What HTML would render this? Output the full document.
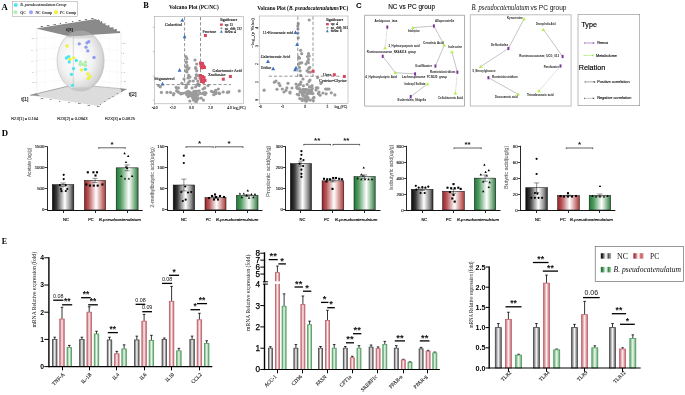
<!DOCTYPE html>
<html><head><meta charset="utf-8"><title>Figure</title>
<style>html,body{margin:0;padding:0;background:#fff;width:685px;height:395px;overflow:hidden}
svg{display:block;font-family:"Liberation Sans", sans-serif;will-change:transform}</style></head>
<body><svg width="685" height="395" viewBox="0 0 685 395"><defs>
<linearGradient id="gK" x1="0" x2="1" y1="0" y2="0"><stop offset="0" stop-color="#0a0a0a"/><stop offset="0.2" stop-color="#3a3a3a"/><stop offset="0.58" stop-color="#ffffff"/><stop offset="0.85" stop-color="#8a8a8a"/><stop offset="1" stop-color="#2a2a2a"/></linearGradient>
<linearGradient id="gR" x1="0" x2="1" y1="0" y2="0"><stop offset="0" stop-color="#9a2226"/><stop offset="0.2" stop-color="#b95a5c"/><stop offset="0.55" stop-color="#ffffff"/><stop offset="0.85" stop-color="#c77a78"/><stop offset="1" stop-color="#a83a38"/></linearGradient>
<linearGradient id="gG" x1="0" x2="1" y1="0" y2="0"><stop offset="0" stop-color="#1d7a35"/><stop offset="0.2" stop-color="#4f9a5f"/><stop offset="0.58" stop-color="#ffffff"/><stop offset="0.85" stop-color="#7aae84"/><stop offset="1" stop-color="#2f7a42"/></linearGradient>
<linearGradient id="eK" x1="0" x2="1" y1="0" y2="0"><stop offset="0" stop-color="#555"/><stop offset="0.5" stop-color="#f4f4f4"/><stop offset="1" stop-color="#555"/></linearGradient>
<linearGradient id="eR" x1="0" x2="1" y1="0" y2="0"><stop offset="0" stop-color="#c2606a"/><stop offset="0.5" stop-color="#fbeeee"/><stop offset="1" stop-color="#c2606a"/></linearGradient>
<linearGradient id="eG" x1="0" x2="1" y1="0" y2="0"><stop offset="0" stop-color="#5aa56a"/><stop offset="0.5" stop-color="#eef8ee"/><stop offset="1" stop-color="#5aa56a"/></linearGradient>
<radialGradient id="sph" cx="0.42" cy="0.45" r="0.62"><stop offset="0" stop-color="#ffffff"/><stop offset="0.55" stop-color="#f2f2f2"/><stop offset="0.85" stop-color="#d8d8d8"/><stop offset="1" stop-color="#bdbdbd"/></radialGradient>
<linearGradient id="lK" x1="0" x2="1"><stop offset="0" stop-color="#111"/><stop offset="0.15" stop-color="#222"/><stop offset="0.48" stop-color="#fff"/><stop offset="0.58" stop-color="#ddd"/><stop offset="0.75" stop-color="#555"/><stop offset="1" stop-color="#bbb"/></linearGradient>
<linearGradient id="lR" x1="0" x2="1"><stop offset="0" stop-color="#a02a30"/><stop offset="0.15" stop-color="#b03a40"/><stop offset="0.48" stop-color="#fff"/><stop offset="0.58" stop-color="#f0d0d0"/><stop offset="0.75" stop-color="#c05050"/><stop offset="1" stop-color="#e8b8b8"/></linearGradient>
<linearGradient id="lG" x1="0" x2="1"><stop offset="0" stop-color="#1f7a35"/><stop offset="0.15" stop-color="#2a8040"/><stop offset="0.48" stop-color="#fff"/><stop offset="0.58" stop-color="#d6ecd6"/><stop offset="0.75" stop-color="#3a8a4a"/><stop offset="1" stop-color="#b8dcb8"/></linearGradient>
</defs>
<text x="1.50" y="9.90" font-size="8.2" font-family='"Liberation Serif", serif' fill="#000" font-weight="bold" textLength="6.30" lengthAdjust="spacingAndGlyphs">A</text>
<rect x="12.30" y="1.30" width="65.20" height="15.20" fill="#fff" stroke="#9a9a9a" stroke-width="0.5"/>
<circle cx="15.80" cy="5.10" r="2.0" fill="#52e6f0"/>
<text x="20.30" y="6.40" font-size="3.8" font-family='"Liberation Serif", serif' fill="#222" font-weight="bold" font-style="italic" textLength="46.20" lengthAdjust="spacingAndGlyphs">B. pseudocatenulatum Group</text>
<circle cx="15.40" cy="12.30" r="2.0" fill="#b4f0b4"/>
<text x="20.30" y="13.60" font-size="3.8" font-family='"Liberation Serif", serif' fill="#222" font-weight="bold" textLength="5.70" lengthAdjust="spacingAndGlyphs">QC</text>
<circle cx="31.00" cy="12.30" r="2.0" fill="#9aa6ee"/>
<text x="35.40" y="13.60" font-size="3.8" font-family='"Liberation Serif", serif' fill="#222" font-weight="bold" textLength="16.60" lengthAdjust="spacingAndGlyphs">NC Group</text>
<circle cx="56.00" cy="12.30" r="2.0" fill="#eef03a"/>
<text x="60.00" y="13.60" font-size="3.8" font-family='"Liberation Serif", serif' fill="#222" font-weight="bold" textLength="16.20" lengthAdjust="spacingAndGlyphs">PC Group</text>
<line x1="37.00" y1="38.50" x2="70.00" y2="35.50" stroke="#ececec" stroke-width="0.3"/>
<line x1="80.00" y1="35.50" x2="121.00" y2="39.50" stroke="#ececec" stroke-width="0.3"/>
<line x1="37.00" y1="49.50" x2="70.00" y2="46.50" stroke="#ececec" stroke-width="0.3"/>
<line x1="80.00" y1="46.50" x2="121.00" y2="50.50" stroke="#ececec" stroke-width="0.3"/>
<line x1="37.00" y1="60.50" x2="70.00" y2="57.50" stroke="#ececec" stroke-width="0.3"/>
<line x1="80.00" y1="57.50" x2="121.00" y2="61.50" stroke="#ececec" stroke-width="0.3"/>
<line x1="37.00" y1="71.50" x2="70.00" y2="68.50" stroke="#ececec" stroke-width="0.3"/>
<line x1="80.00" y1="68.50" x2="121.00" y2="72.50" stroke="#ececec" stroke-width="0.3"/>
<line x1="37.00" y1="82.50" x2="70.00" y2="79.50" stroke="#ececec" stroke-width="0.3"/>
<line x1="80.00" y1="79.50" x2="121.00" y2="83.50" stroke="#ececec" stroke-width="0.3"/>
<line x1="37.00" y1="93.50" x2="70.00" y2="90.50" stroke="#ececec" stroke-width="0.3"/>
<line x1="80.00" y1="90.50" x2="121.00" y2="94.50" stroke="#ececec" stroke-width="0.3"/>
<line x1="45.00" y1="33.00" x2="45.00" y2="92.00" stroke="#efefef" stroke-width="0.3"/>
<line x1="85.00" y1="31.00" x2="85.00" y2="90.00" stroke="#efefef" stroke-width="0.3"/>
<line x1="54.00" y1="33.00" x2="54.00" y2="92.00" stroke="#efefef" stroke-width="0.3"/>
<line x1="93.00" y1="31.00" x2="93.00" y2="90.00" stroke="#efefef" stroke-width="0.3"/>
<line x1="63.00" y1="33.00" x2="63.00" y2="92.00" stroke="#efefef" stroke-width="0.3"/>
<line x1="101.00" y1="31.00" x2="101.00" y2="90.00" stroke="#efefef" stroke-width="0.3"/>
<line x1="72.00" y1="33.00" x2="72.00" y2="92.00" stroke="#efefef" stroke-width="0.3"/>
<line x1="109.00" y1="31.00" x2="109.00" y2="90.00" stroke="#efefef" stroke-width="0.3"/>
<line x1="81.00" y1="33.00" x2="81.00" y2="92.00" stroke="#efefef" stroke-width="0.3"/>
<line x1="117.00" y1="31.00" x2="117.00" y2="90.00" stroke="#efefef" stroke-width="0.3"/>
<line x1="36.80" y1="29.00" x2="36.80" y2="95.00" stroke="#d0d0d0" stroke-width="0.35"/>
<line x1="121.00" y1="33.00" x2="121.00" y2="90.00" stroke="#d0d0d0" stroke-width="0.35"/>
<line x1="35.50" y1="38.50" x2="36.80" y2="38.50" stroke="#999" stroke-width="0.3"/>
<text x="31.50" y="39.30" font-size="2.2" font-family='"Liberation Sans", sans-serif' fill="#888">10</text>
<line x1="35.50" y1="50.00" x2="36.80" y2="50.00" stroke="#999" stroke-width="0.3"/>
<text x="31.50" y="50.80" font-size="2.2" font-family='"Liberation Sans", sans-serif' fill="#888">5</text>
<line x1="35.50" y1="61.00" x2="36.80" y2="61.00" stroke="#999" stroke-width="0.3"/>
<text x="31.50" y="61.80" font-size="2.2" font-family='"Liberation Sans", sans-serif' fill="#888">0</text>
<line x1="35.50" y1="72.00" x2="36.80" y2="72.00" stroke="#999" stroke-width="0.3"/>
<text x="31.50" y="72.80" font-size="2.2" font-family='"Liberation Sans", sans-serif' fill="#888">-5</text>
<line x1="35.50" y1="82.60" x2="36.80" y2="82.60" stroke="#999" stroke-width="0.3"/>
<text x="31.50" y="83.40" font-size="2.2" font-family='"Liberation Sans", sans-serif' fill="#888">-10</text>
<line x1="121.00" y1="43.30" x2="122.30" y2="43.30" stroke="#999" stroke-width="0.3"/>
<text x="123.00" y="44.10" font-size="2.2" font-family='"Liberation Sans", sans-serif' fill="#888">10</text>
<line x1="121.00" y1="53.00" x2="122.30" y2="53.00" stroke="#999" stroke-width="0.3"/>
<text x="123.00" y="53.80" font-size="2.2" font-family='"Liberation Sans", sans-serif' fill="#888">5</text>
<line x1="121.00" y1="62.80" x2="122.30" y2="62.80" stroke="#999" stroke-width="0.3"/>
<text x="123.00" y="63.60" font-size="2.2" font-family='"Liberation Sans", sans-serif' fill="#888">0</text>
<line x1="121.00" y1="72.50" x2="122.30" y2="72.50" stroke="#999" stroke-width="0.3"/>
<text x="123.00" y="73.30" font-size="2.2" font-family='"Liberation Sans", sans-serif' fill="#888">-5</text>
<line x1="121.00" y1="81.40" x2="122.30" y2="81.40" stroke="#999" stroke-width="0.3"/>
<text x="123.00" y="82.20" font-size="2.2" font-family='"Liberation Sans", sans-serif' fill="#888">-10</text>
<polygon points="30.00,95.30 75.00,84.50 126.70,89.20 98.00,106.00" fill="#dcdcdc"/>
<line x1="30.00" y1="95.30" x2="75.00" y2="84.50" stroke="#8c8c8c" stroke-width="0.7"/>
<line x1="75.00" y1="84.50" x2="126.70" y2="89.20" stroke="#a0a0a0" stroke-width="0.6"/>
<polygon points="30.00,95.30 36.00,93.50 40.00,96.00" fill="#8a8a8a"/>
<polygon points="126.70,89.20 120.00,88.50 122.00,91.50" fill="#8a8a8a"/>
<text x="40.00" y="99.00" font-size="2.2" font-family='"Liberation Sans", sans-serif' fill="#555" stroke="#555" stroke-width="0.1">-10</text>
<text x="49.50" y="100.30" font-size="2.2" font-family='"Liberation Sans", sans-serif' fill="#555" stroke="#555" stroke-width="0.1">-5</text>
<text x="59.00" y="101.60" font-size="2.2" font-family='"Liberation Sans", sans-serif' fill="#555" stroke="#555" stroke-width="0.1">0</text>
<text x="68.50" y="102.90" font-size="2.2" font-family='"Liberation Sans", sans-serif' fill="#555" stroke="#555" stroke-width="0.1">5</text>
<text x="78.00" y="104.20" font-size="2.2" font-family='"Liberation Sans", sans-serif' fill="#555" stroke="#555" stroke-width="0.1">10</text>
<text x="87.50" y="105.50" font-size="2.2" font-family='"Liberation Sans", sans-serif' fill="#555" stroke="#555" stroke-width="0.1">15</text>
<text x="97.00" y="106.80" font-size="2.2" font-family='"Liberation Sans", sans-serif' fill="#555" stroke="#555" stroke-width="0.1">20</text>
<text x="100.00" y="104.50" font-size="2.0" font-family='"Liberation Sans", sans-serif' fill="#555" stroke="#555" stroke-width="0.1">1</text>
<text x="104.20" y="101.90" font-size="2.0" font-family='"Liberation Sans", sans-serif' fill="#555" stroke="#555" stroke-width="0.1">1</text>
<text x="108.40" y="99.30" font-size="2.0" font-family='"Liberation Sans", sans-serif' fill="#555" stroke="#555" stroke-width="0.1">1</text>
<text x="112.60" y="96.70" font-size="2.0" font-family='"Liberation Sans", sans-serif' fill="#555" stroke="#555" stroke-width="0.1">1</text>
<text x="116.80" y="94.10" font-size="2.0" font-family='"Liberation Sans", sans-serif' fill="#555" stroke="#555" stroke-width="0.1">1</text>
<text x="121.00" y="91.50" font-size="2.0" font-family='"Liberation Sans", sans-serif' fill="#555" stroke="#555" stroke-width="0.1">1</text>
<ellipse cx="80.6" cy="60.8" rx="23.6" ry="30.3" fill="url(#sph)" stroke="#b4b4b4" stroke-width="0.5"/>
<clipPath id="sphc"><ellipse cx="80.6" cy="60.8" rx="23.6" ry="30.3"/></clipPath>
<g clip-path="url(#sphc)"><ellipse cx="80" cy="35" rx="17" ry="3.6" fill="#d0d0d0" opacity="0.7"/><ellipse cx="82" cy="90.5" rx="15" ry="3.2" fill="#c4c4c4" opacity="0.8"/></g>
<line x1="73.30" y1="33.00" x2="73.30" y2="86.00" stroke="#9a9a9a" stroke-width="0.35"/>
<circle cx="67.00" cy="46.00" r="1.65" fill="#f0f03c"/>
<circle cx="79.30" cy="43.80" r="1.65" fill="#8f9cf0"/>
<circle cx="87.00" cy="42.80" r="1.65" fill="#8f9cf0"/>
<circle cx="88.70" cy="41.70" r="1.65" fill="#8f9cf0"/>
<circle cx="86.00" cy="47.20" r="1.65" fill="#8f9cf0"/>
<circle cx="87.80" cy="50.90" r="1.65" fill="#8f9cf0"/>
<circle cx="94.00" cy="57.50" r="1.65" fill="#8f9cf0"/>
<circle cx="66.40" cy="58.00" r="1.65" fill="#48e4f2"/>
<circle cx="68.70" cy="56.60" r="1.65" fill="#48e4f2"/>
<circle cx="70.00" cy="59.20" r="1.65" fill="#f0f03c"/>
<circle cx="69.20" cy="61.90" r="1.65" fill="#48e4f2"/>
<circle cx="73.70" cy="57.80" r="1.65" fill="#f0f03c"/>
<circle cx="76.30" cy="60.50" r="1.65" fill="#48e4f2"/>
<circle cx="80.60" cy="61.90" r="1.65" fill="#b2eeb0"/>
<circle cx="85.50" cy="62.20" r="1.65" fill="#b2eeb0"/>
<circle cx="80.00" cy="64.50" r="1.65" fill="#b2eeb0"/>
<circle cx="83.00" cy="64.50" r="1.65" fill="#b2eeb0"/>
<circle cx="85.50" cy="65.40" r="1.65" fill="#b2eeb0"/>
<circle cx="85.50" cy="69.30" r="1.65" fill="#48e4f2"/>
<circle cx="81.60" cy="69.90" r="1.65" fill="#f0f03c"/>
<circle cx="73.50" cy="68.60" r="1.65" fill="#48e4f2"/>
<circle cx="71.40" cy="74.30" r="1.65" fill="#48e4f2"/>
<circle cx="87.80" cy="73.90" r="1.65" fill="#f0f03c"/>
<circle cx="90.00" cy="76.40" r="1.65" fill="#f0f03c"/>
<circle cx="88.20" cy="78.70" r="1.65" fill="#f0f03c"/>
<circle cx="72.60" cy="85.40" r="1.65" fill="#48e4f2"/>
<polygon points="36.00,28.60 95.50,19.00 120.40,33.00 69.00,36.30" fill="#8a8a8a"/>
<clipPath id="plc"><polygon points="36,28.6 95.5,19 120.4,33 69,36.3"/></clipPath>
<g clip-path="url(#plc)"><ellipse cx="80.6" cy="60.8" rx="23.6" ry="30.3" fill="#a2a2a2"/></g>
<text x="66.00" y="31.20" font-size="4.4" font-family='"Liberation Sans", sans-serif' fill="#111" stroke="#111" stroke-width="0.12" textLength="7.00" lengthAdjust="spacingAndGlyphs">t[3]</text>
<text x="40.00" y="27.36" font-size="2.1" font-family='"Liberation Sans", sans-serif' fill="#444" stroke="#444" stroke-width="0.1">-20</text>
<text x="46.40" y="26.33" font-size="2.1" font-family='"Liberation Sans", sans-serif' fill="#444" stroke="#444" stroke-width="0.1">-15</text>
<text x="52.80" y="25.30" font-size="2.1" font-family='"Liberation Sans", sans-serif' fill="#444" stroke="#444" stroke-width="0.1">-10</text>
<text x="59.20" y="24.26" font-size="2.1" font-family='"Liberation Sans", sans-serif' fill="#444" stroke="#444" stroke-width="0.1">-5</text>
<text x="65.60" y="23.23" font-size="2.1" font-family='"Liberation Sans", sans-serif' fill="#444" stroke="#444" stroke-width="0.1">0</text>
<text x="72.00" y="22.20" font-size="2.1" font-family='"Liberation Sans", sans-serif' fill="#444" stroke="#444" stroke-width="0.1">5</text>
<text x="78.40" y="21.17" font-size="2.1" font-family='"Liberation Sans", sans-serif' fill="#444" stroke="#444" stroke-width="0.1">10</text>
<text x="84.80" y="20.14" font-size="2.1" font-family='"Liberation Sans", sans-serif' fill="#444" stroke="#444" stroke-width="0.1">15</text>
<text x="91.20" y="19.11" font-size="2.1" font-family='"Liberation Sans", sans-serif' fill="#444" stroke="#444" stroke-width="0.1">20</text>
<text x="97.50" y="20.43" font-size="2.0" font-family='"Liberation Sans", sans-serif' fill="#444" stroke="#444" stroke-width="0.1" transform="rotate(30 97.50 20.43)">10</text>
<text x="100.80" y="22.28" font-size="2.0" font-family='"Liberation Sans", sans-serif' fill="#444" stroke="#444" stroke-width="0.1" transform="rotate(30 100.80 22.28)">5</text>
<text x="104.10" y="24.14" font-size="2.0" font-family='"Liberation Sans", sans-serif' fill="#444" stroke="#444" stroke-width="0.1" transform="rotate(30 104.10 24.14)">0</text>
<text x="107.40" y="25.99" font-size="2.0" font-family='"Liberation Sans", sans-serif' fill="#444" stroke="#444" stroke-width="0.1" transform="rotate(30 107.40 25.99)">-5</text>
<text x="110.70" y="27.85" font-size="2.0" font-family='"Liberation Sans", sans-serif' fill="#444" stroke="#444" stroke-width="0.1" transform="rotate(30 110.70 27.85)">-10</text>
<text x="114.00" y="29.71" font-size="2.0" font-family='"Liberation Sans", sans-serif' fill="#444" stroke="#444" stroke-width="0.1" transform="rotate(30 114.00 29.71)">-15</text>
<text x="117.30" y="31.56" font-size="2.0" font-family='"Liberation Sans", sans-serif' fill="#444" stroke="#444" stroke-width="0.1" transform="rotate(30 117.30 31.56)">-20</text>
<text x="21.20" y="101.00" font-size="4.8" font-family='"Liberation Sans", sans-serif' fill="#111" stroke="#111" stroke-width="0.12" textLength="7.20" lengthAdjust="spacingAndGlyphs">t[1]</text>
<text x="128.70" y="95.50" font-size="4.8" font-family='"Liberation Sans", sans-serif' fill="#111" stroke="#111" stroke-width="0.12" textLength="7.80" lengthAdjust="spacingAndGlyphs">t[2]</text>
<text x="11.20" y="120.00" font-size="4.2" font-family='"Liberation Sans", sans-serif' fill="#222" stroke="#222" stroke-width="0.1" textLength="27.20" lengthAdjust="spacingAndGlyphs">R2X[1] = 0.164</text>
<text x="57.20" y="120.00" font-size="4.2" font-family='"Liberation Sans", sans-serif' fill="#222" stroke="#222" stroke-width="0.1" textLength="30.30" lengthAdjust="spacingAndGlyphs">R2X[2] = 0.0943</text>
<text x="105.00" y="120.00" font-size="4.2" font-family='"Liberation Sans", sans-serif' fill="#222" stroke="#222" stroke-width="0.1" textLength="30.00" lengthAdjust="spacingAndGlyphs">R2X[3] = 0.0825</text>
<text x="143.20" y="7.80" font-size="7.4" font-family='"Liberation Serif", serif' fill="#000" font-weight="bold" textLength="5.60" lengthAdjust="spacingAndGlyphs">B</text>
<text x="169.00" y="9.30" font-size="5.6" font-family='"Liberation Serif", serif' fill="#000" font-weight="bold" textLength="49.70" lengthAdjust="spacingAndGlyphs">Volcano Plot (PC/NC)</text>
<text x="257.2" y="9.9" font-size="5.6" font-family='"Liberation Serif", serif' font-weight="bold" textLength="91.1" lengthAdjust="spacingAndGlyphs">Volcano Plot (<tspan font-style="italic">B. pseudocatenulatum</tspan>/PC)</text>
<rect x="154.50" y="16.50" width="89.00" height="87.30" fill="#fff" stroke="#a0a0a0" stroke-width="0.55"/>
<circle cx="186.00" cy="56.70" r="1.6" fill="#9b9b9b"/>
<circle cx="186.90" cy="58.70" r="1.6" fill="#9b9b9b"/>
<circle cx="186.40" cy="62.20" r="1.6" fill="#9b9b9b"/>
<circle cx="187.10" cy="65.60" r="1.6" fill="#9b9b9b"/>
<circle cx="196.70" cy="64.00" r="1.6" fill="#9b9b9b"/>
<circle cx="196.70" cy="70.80" r="1.6" fill="#9b9b9b"/>
<circle cx="186.90" cy="72.00" r="1.6" fill="#9b9b9b"/>
<circle cx="188.70" cy="75.40" r="1.6" fill="#9b9b9b"/>
<circle cx="196.70" cy="75.40" r="1.6" fill="#9b9b9b"/>
<circle cx="189.90" cy="81.00" r="1.6" fill="#9b9b9b"/>
<circle cx="193.30" cy="81.00" r="1.6" fill="#9b9b9b"/>
<circle cx="197.80" cy="81.00" r="1.6" fill="#9b9b9b"/>
<circle cx="181.90" cy="83.30" r="1.6" fill="#9b9b9b"/>
<circle cx="176.20" cy="87.40" r="1.6" fill="#9b9b9b"/>
<circle cx="178.50" cy="87.90" r="1.6" fill="#9b9b9b"/>
<circle cx="186.40" cy="86.80" r="1.6" fill="#9b9b9b"/>
<circle cx="192.10" cy="87.90" r="1.6" fill="#9b9b9b"/>
<circle cx="195.60" cy="86.80" r="1.6" fill="#9b9b9b"/>
<circle cx="199.00" cy="85.60" r="1.6" fill="#9b9b9b"/>
<circle cx="204.70" cy="87.90" r="1.6" fill="#9b9b9b"/>
<circle cx="208.00" cy="85.60" r="1.6" fill="#9b9b9b"/>
<circle cx="160.30" cy="86.80" r="1.6" fill="#9b9b9b"/>
<circle cx="158.70" cy="85.60" r="1.6" fill="#9b9b9b"/>
<circle cx="161.40" cy="92.40" r="1.6" fill="#9b9b9b"/>
<circle cx="167.00" cy="92.40" r="1.6" fill="#9b9b9b"/>
<circle cx="170.50" cy="92.40" r="1.6" fill="#9b9b9b"/>
<circle cx="173.90" cy="93.60" r="1.6" fill="#9b9b9b"/>
<circle cx="177.30" cy="91.30" r="1.6" fill="#9b9b9b"/>
<circle cx="180.80" cy="93.60" r="1.6" fill="#9b9b9b"/>
<circle cx="211.50" cy="91.30" r="1.6" fill="#9b9b9b"/>
<circle cx="216.00" cy="92.40" r="1.6" fill="#9b9b9b"/>
<circle cx="219.50" cy="93.60" r="1.6" fill="#9b9b9b"/>
<circle cx="227.40" cy="92.40" r="1.6" fill="#9b9b9b"/>
<circle cx="239.30" cy="90.90" r="1.6" fill="#9b9b9b"/>
<circle cx="218.30" cy="89.00" r="1.6" fill="#9b9b9b"/>
<circle cx="189.00" cy="68.00" r="1.6" fill="#9b9b9b"/>
<circle cx="195.00" cy="60.00" r="1.6" fill="#9b9b9b"/>
<circle cx="190.00" cy="77.00" r="1.6" fill="#9b9b9b"/>
<circle cx="184.00" cy="79.00" r="1.6" fill="#9b9b9b"/>
<circle cx="200.00" cy="78.00" r="1.6" fill="#9b9b9b"/>
<circle cx="203.00" cy="89.00" r="1.6" fill="#9b9b9b"/>
<circle cx="206.00" cy="93.00" r="1.6" fill="#9b9b9b"/>
<circle cx="189.83" cy="100.98" r="1.6" fill="#9b9b9b"/>
<circle cx="194.63" cy="96.03" r="1.6" fill="#9b9b9b"/>
<circle cx="189.51" cy="92.99" r="1.6" fill="#9b9b9b"/>
<circle cx="193.30" cy="96.53" r="1.6" fill="#9b9b9b"/>
<circle cx="189.85" cy="92.02" r="1.6" fill="#9b9b9b"/>
<circle cx="189.62" cy="94.28" r="1.6" fill="#9b9b9b"/>
<circle cx="198.10" cy="98.49" r="1.6" fill="#9b9b9b"/>
<circle cx="196.45" cy="91.45" r="1.6" fill="#9b9b9b"/>
<circle cx="201.21" cy="98.06" r="1.6" fill="#9b9b9b"/>
<circle cx="192.63" cy="97.65" r="1.6" fill="#9b9b9b"/>
<circle cx="193.79" cy="96.71" r="1.6" fill="#9b9b9b"/>
<circle cx="193.94" cy="91.64" r="1.6" fill="#9b9b9b"/>
<circle cx="194.32" cy="91.32" r="1.6" fill="#9b9b9b"/>
<circle cx="195.58" cy="96.01" r="1.6" fill="#9b9b9b"/>
<circle cx="188.13" cy="96.61" r="1.6" fill="#9b9b9b"/>
<circle cx="195.61" cy="97.92" r="1.6" fill="#9b9b9b"/>
<circle cx="189.08" cy="95.94" r="1.6" fill="#9b9b9b"/>
<circle cx="193.51" cy="94.00" r="1.6" fill="#9b9b9b"/>
<circle cx="203.40" cy="100.07" r="1.6" fill="#9b9b9b"/>
<circle cx="193.35" cy="98.64" r="1.6" fill="#9b9b9b"/>
<circle cx="192.64" cy="94.12" r="1.6" fill="#9b9b9b"/>
<circle cx="195.49" cy="91.76" r="1.6" fill="#9b9b9b"/>
<circle cx="193.81" cy="100.14" r="1.6" fill="#9b9b9b"/>
<circle cx="190.48" cy="95.17" r="1.6" fill="#9b9b9b"/>
<circle cx="199.12" cy="91.01" r="1.6" fill="#9b9b9b"/>
<circle cx="191.98" cy="93.26" r="1.6" fill="#9b9b9b"/>
<circle cx="196.36" cy="101.59" r="1.6" fill="#9b9b9b"/>
<circle cx="191.69" cy="95.29" r="1.6" fill="#9b9b9b"/>
<circle cx="197.29" cy="99.41" r="1.6" fill="#9b9b9b"/>
<circle cx="195.37" cy="93.91" r="1.6" fill="#9b9b9b"/>
<circle cx="195.80" cy="101.41" r="1.6" fill="#9b9b9b"/>
<circle cx="194.90" cy="99.19" r="1.6" fill="#9b9b9b"/>
<circle cx="195.16" cy="92.09" r="1.6" fill="#9b9b9b"/>
<circle cx="195.02" cy="91.65" r="1.6" fill="#9b9b9b"/>
<circle cx="194.05" cy="97.04" r="1.6" fill="#9b9b9b"/>
<circle cx="191.70" cy="95.83" r="1.6" fill="#9b9b9b"/>
<circle cx="195.27" cy="92.41" r="1.6" fill="#9b9b9b"/>
<circle cx="198.03" cy="97.95" r="1.6" fill="#9b9b9b"/>
<circle cx="195.83" cy="93.30" r="1.6" fill="#9b9b9b"/>
<circle cx="195.60" cy="93.91" r="1.6" fill="#9b9b9b"/>
<circle cx="188.41" cy="82.50" r="1.6" fill="#9b9b9b"/>
<circle cx="186.41" cy="84.78" r="1.6" fill="#9b9b9b"/>
<circle cx="186.13" cy="71.04" r="1.6" fill="#9b9b9b"/>
<circle cx="188.06" cy="77.97" r="1.6" fill="#9b9b9b"/>
<circle cx="185.80" cy="87.70" r="1.6" fill="#9b9b9b"/>
<circle cx="186.14" cy="67.23" r="1.6" fill="#9b9b9b"/>
<circle cx="187.82" cy="69.21" r="1.6" fill="#9b9b9b"/>
<circle cx="186.39" cy="62.06" r="1.6" fill="#9b9b9b"/>
<circle cx="195.32" cy="77.99" r="1.6" fill="#9b9b9b"/>
<circle cx="195.85" cy="78.43" r="1.6" fill="#9b9b9b"/>
<circle cx="196.30" cy="74.88" r="1.6" fill="#9b9b9b"/>
<circle cx="198.36" cy="75.61" r="1.6" fill="#9b9b9b"/>
<circle cx="197.01" cy="84.80" r="1.6" fill="#9b9b9b"/>
<circle cx="195.64" cy="67.70" r="1.6" fill="#9b9b9b"/>
<circle cx="198.18" cy="83.63" r="1.6" fill="#9b9b9b"/>
<circle cx="195.87" cy="68.56" r="1.6" fill="#9b9b9b"/>
<circle cx="204.97" cy="94.61" r="1.6" fill="#9b9b9b"/>
<circle cx="219.05" cy="93.06" r="1.6" fill="#9b9b9b"/>
<circle cx="213.17" cy="92.00" r="1.6" fill="#9b9b9b"/>
<circle cx="178.75" cy="92.36" r="1.6" fill="#9b9b9b"/>
<circle cx="173.39" cy="94.79" r="1.6" fill="#9b9b9b"/>
<circle cx="203.35" cy="93.19" r="1.6" fill="#9b9b9b"/>
<circle cx="186.63" cy="94.58" r="1.6" fill="#9b9b9b"/>
<circle cx="188.11" cy="91.33" r="1.6" fill="#9b9b9b"/>
<circle cx="182.87" cy="93.37" r="1.6" fill="#9b9b9b"/>
<circle cx="185.39" cy="92.83" r="1.6" fill="#9b9b9b"/>
<circle cx="197.45" cy="94.99" r="1.6" fill="#9b9b9b"/>
<circle cx="187.58" cy="91.51" r="1.6" fill="#9b9b9b"/>
<circle cx="215.90" cy="93.59" r="1.6" fill="#9b9b9b"/>
<circle cx="187.13" cy="93.82" r="1.6" fill="#9b9b9b"/>
<circle cx="193.49" cy="94.54" r="1.6" fill="#9b9b9b"/>
<circle cx="190.91" cy="93.92" r="1.6" fill="#9b9b9b"/>
<circle cx="197.92" cy="94.66" r="1.6" fill="#9b9b9b"/>
<circle cx="213.80" cy="94.76" r="1.6" fill="#9b9b9b"/>
<circle cx="223.15" cy="91.98" r="1.6" fill="#9b9b9b"/>
<circle cx="198.39" cy="91.20" r="1.6" fill="#9b9b9b"/>
<circle cx="180.98" cy="93.83" r="1.6" fill="#9b9b9b"/>
<circle cx="215.31" cy="93.57" r="1.6" fill="#9b9b9b"/>
<circle cx="203.18" cy="93.86" r="1.6" fill="#9b9b9b"/>
<circle cx="200.42" cy="93.41" r="1.6" fill="#9b9b9b"/>
<circle cx="194.71" cy="93.31" r="1.6" fill="#9b9b9b"/>
<circle cx="228.76" cy="91.93" r="1.6" fill="#9b9b9b"/>
<circle cx="176.70" cy="90.68" r="1.6" fill="#9b9b9b"/>
<circle cx="214.51" cy="92.66" r="1.6" fill="#9b9b9b"/>
<circle cx="204.85" cy="92.58" r="1.6" fill="#9b9b9b"/>
<circle cx="215.70" cy="90.44" r="1.6" fill="#9b9b9b"/>
<line x1="184.60" y1="17.00" x2="184.60" y2="85.10" stroke="#707070" stroke-width="0.75" stroke-dasharray="3.2,2.0"/>
<line x1="200.50" y1="17.00" x2="200.50" y2="85.10" stroke="#707070" stroke-width="0.75" stroke-dasharray="3.2,2.0"/>
<line x1="156.00" y1="84.60" x2="231.00" y2="84.60" stroke="#707070" stroke-width="0.75" stroke-dasharray="3.2,2.0"/>
<rect x="199.00" y="61.50" width="3.00" height="3.00" fill="#d9465e"/>
<rect x="201.00" y="62.00" width="3.00" height="3.00" fill="#d9465e"/>
<rect x="199.50" y="64.00" width="3.00" height="3.00" fill="#d9465e"/>
<rect x="202.00" y="64.50" width="3.00" height="3.00" fill="#d9465e"/>
<rect x="203.00" y="66.00" width="3.00" height="3.00" fill="#d9465e"/>
<rect x="200.00" y="66.30" width="3.00" height="3.00" fill="#d9465e"/>
<rect x="199.00" y="74.00" width="3.00" height="3.00" fill="#d9465e"/>
<rect x="201.00" y="75.00" width="3.00" height="3.00" fill="#d9465e"/>
<rect x="202.50" y="76.00" width="3.00" height="3.00" fill="#d9465e"/>
<rect x="199.50" y="77.50" width="3.00" height="3.00" fill="#d9465e"/>
<rect x="201.50" y="78.50" width="3.00" height="3.00" fill="#d9465e"/>
<rect x="203.50" y="79.00" width="3.00" height="3.00" fill="#d9465e"/>
<rect x="200.00" y="80.00" width="3.00" height="3.00" fill="#d9465e"/>
<rect x="202.00" y="80.70" width="3.00" height="3.00" fill="#d9465e"/>
<rect x="203.90" y="34.00" width="3.00" height="3.00" fill="#d9465e"/>
<rect x="221.80" y="77.70" width="3.00" height="3.00" fill="#d9465e"/>
<rect x="228.90" y="75.00" width="3.00" height="3.00" fill="#d9465e"/>
<polygon points="182.30,18.10 180.38,21.77 184.23,21.77" fill="#3f6fc0"/>
<polygon points="184.60,34.50 182.67,38.18 186.53,38.18" fill="#3f6fc0"/>
<polygon points="179.60,68.00 177.67,71.67 181.53,71.67" fill="#3f6fc0"/>
<polygon points="162.50,81.70 160.57,85.38 164.43,85.38" fill="#3f6fc0"/>
<text x="219.90" y="21.30" font-size="3.4" font-family='"Liberation Serif", serif' fill="#000" stroke="#000" stroke-width="0.1" textLength="17.30" lengthAdjust="spacingAndGlyphs">Significance</text>
<rect x="220.00" y="23.50" width="2.80" height="2.30" fill="#d9465e"/>
<text x="224.80" y="25.80" font-size="3.4" font-family='"Liberation Serif", serif' fill="#000" stroke="#000" stroke-width="0.1" textLength="8.20" lengthAdjust="spacingAndGlyphs">up: 13</text>
<circle cx="221.40" cy="28.30" r="1.15" fill="#9b9b9b"/>
<text x="224.80" y="29.70" font-size="3.4" font-family='"Liberation Serif", serif' fill="#000" stroke="#000" stroke-width="0.1" textLength="17.10" lengthAdjust="spacingAndGlyphs">no_diff: 232</text>
<polygon points="221.35,30.04 219.92,32.77 222.78,32.77" fill="#3f6fc0"/>
<text x="224.80" y="32.80" font-size="3.4" font-family='"Liberation Serif", serif' fill="#000" stroke="#000" stroke-width="0.1" textLength="11.10" lengthAdjust="spacingAndGlyphs">down: 4</text>
<text x="165.00" y="25.60" font-size="3.8" font-family='"Liberation Serif", serif' fill="#111" stroke="#111" stroke-width="0.1" textLength="17.00" lengthAdjust="spacingAndGlyphs">Galactitol</text>
<text x="202.60" y="32.60" font-size="3.8" font-family='"Liberation Serif", serif' fill="#111" stroke="#111" stroke-width="0.1" textLength="13.70" lengthAdjust="spacingAndGlyphs">Fructose</text>
<text x="154.20" y="80.40" font-size="3.8" font-family='"Liberation Serif", serif' fill="#111" stroke="#111" stroke-width="0.1" textLength="20.40" lengthAdjust="spacingAndGlyphs">Stigmasterol</text>
<text x="212.50" y="71.70" font-size="3.8" font-family='"Liberation Serif", serif' fill="#111" stroke="#111" stroke-width="0.1" textLength="29.30" lengthAdjust="spacingAndGlyphs">Galacturonic Acid</text>
<text x="208.00" y="76.10" font-size="3.8" font-family='"Liberation Serif", serif' fill="#111" stroke="#111" stroke-width="0.1" textLength="17.60" lengthAdjust="spacingAndGlyphs">Xanthosine</text>
<line x1="152.80" y1="27.30" x2="154.50" y2="27.30" stroke="#777" stroke-width="0.4"/>
<line x1="152.80" y1="51.70" x2="154.50" y2="51.70" stroke="#777" stroke-width="0.4"/>
<line x1="152.80" y1="76.00" x2="154.50" y2="76.00" stroke="#777" stroke-width="0.4"/>
<line x1="152.80" y1="100.20" x2="154.50" y2="100.20" stroke="#777" stroke-width="0.4"/>
<line x1="154.60" y1="103.80" x2="154.60" y2="105.20" stroke="#777" stroke-width="0.4"/>
<text x="154.60" y="108.60" font-size="3.6" font-family='"Liberation Serif", serif' fill="#111" stroke="#111" stroke-width="0.1" text-anchor="middle">-4.0</text>
<line x1="172.60" y1="103.80" x2="172.60" y2="105.20" stroke="#777" stroke-width="0.4"/>
<text x="172.60" y="108.60" font-size="3.6" font-family='"Liberation Serif", serif' fill="#111" stroke="#111" stroke-width="0.1" text-anchor="middle">-2.0</text>
<line x1="191.60" y1="103.80" x2="191.60" y2="105.20" stroke="#777" stroke-width="0.4"/>
<text x="191.60" y="108.60" font-size="3.6" font-family='"Liberation Serif", serif' fill="#111" stroke="#111" stroke-width="0.1" text-anchor="middle">0.0</text>
<line x1="210.60" y1="103.80" x2="210.60" y2="105.20" stroke="#777" stroke-width="0.4"/>
<text x="210.60" y="108.60" font-size="3.6" font-family='"Liberation Serif", serif' fill="#111" stroke="#111" stroke-width="0.1" text-anchor="middle">2.0</text>
<line x1="229.60" y1="103.80" x2="229.60" y2="105.20" stroke="#777" stroke-width="0.4"/>
<text x="229.60" y="108.60" font-size="3.6" font-family='"Liberation Serif", serif' fill="#111" stroke="#111" stroke-width="0.1" text-anchor="middle">4.0</text>
<text x="232.8" y="108.6" font-size="3.7" stroke="#222" stroke-width="0.1" font-family='"Liberation Serif", serif' fill="#222">log<tspan font-size="2.3" dy="0.9">2</tspan><tspan dy="-0.9">(FC)</tspan></text>
<rect x="259.20" y="16.00" width="88.80" height="87.50" fill="#fff" stroke="#a0a0a0" stroke-width="0.55"/>
<circle cx="309.20" cy="20.00" r="1.6" fill="#9b9b9b"/>
<circle cx="298.30" cy="23.70" r="1.6" fill="#9b9b9b"/>
<circle cx="297.80" cy="26.00" r="1.6" fill="#9b9b9b"/>
<circle cx="298.30" cy="37.80" r="1.6" fill="#9b9b9b"/>
<circle cx="300.60" cy="50.30" r="1.6" fill="#9b9b9b"/>
<circle cx="301.70" cy="53.70" r="1.6" fill="#9b9b9b"/>
<circle cx="308.50" cy="53.70" r="1.6" fill="#9b9b9b"/>
<circle cx="309.20" cy="56.00" r="1.6" fill="#9b9b9b"/>
<circle cx="308.50" cy="59.40" r="1.6" fill="#9b9b9b"/>
<circle cx="301.70" cy="62.80" r="1.6" fill="#9b9b9b"/>
<circle cx="307.40" cy="61.70" r="1.6" fill="#9b9b9b"/>
<circle cx="299.40" cy="67.40" r="1.6" fill="#9b9b9b"/>
<circle cx="309.70" cy="67.40" r="1.6" fill="#9b9b9b"/>
<circle cx="300.10" cy="70.80" r="1.6" fill="#9b9b9b"/>
<circle cx="308.50" cy="72.00" r="1.6" fill="#9b9b9b"/>
<circle cx="300.60" cy="75.40" r="1.6" fill="#9b9b9b"/>
<circle cx="317.60" cy="77.60" r="1.6" fill="#9b9b9b"/>
<circle cx="276.00" cy="81.10" r="1.6" fill="#9b9b9b"/>
<circle cx="278.90" cy="83.30" r="1.6" fill="#9b9b9b"/>
<circle cx="274.40" cy="82.20" r="1.6" fill="#9b9b9b"/>
<circle cx="280.00" cy="85.60" r="1.6" fill="#9b9b9b"/>
<circle cx="288.00" cy="83.30" r="1.6" fill="#9b9b9b"/>
<circle cx="264.10" cy="90.20" r="1.6" fill="#9b9b9b"/>
<circle cx="282.30" cy="89.00" r="1.6" fill="#9b9b9b"/>
<circle cx="286.90" cy="87.90" r="1.6" fill="#9b9b9b"/>
<circle cx="312.00" cy="85.60" r="1.6" fill="#9b9b9b"/>
<circle cx="321.00" cy="83.30" r="1.6" fill="#9b9b9b"/>
<circle cx="325.60" cy="89.00" r="1.6" fill="#9b9b9b"/>
<circle cx="329.00" cy="89.00" r="1.6" fill="#9b9b9b"/>
<circle cx="298.00" cy="29.00" r="1.6" fill="#9b9b9b"/>
<circle cx="298.00" cy="33.00" r="1.6" fill="#9b9b9b"/>
<circle cx="306.00" cy="64.00" r="1.6" fill="#9b9b9b"/>
<circle cx="303.00" cy="79.00" r="1.6" fill="#9b9b9b"/>
<circle cx="310.00" cy="80.00" r="1.6" fill="#9b9b9b"/>
<circle cx="284.00" cy="92.00" r="1.6" fill="#9b9b9b"/>
<circle cx="290.00" cy="93.00" r="1.6" fill="#9b9b9b"/>
<circle cx="292.00" cy="88.00" r="1.6" fill="#9b9b9b"/>
<circle cx="319.00" cy="92.00" r="1.6" fill="#9b9b9b"/>
<circle cx="323.00" cy="93.00" r="1.6" fill="#9b9b9b"/>
<circle cx="316.00" cy="90.00" r="1.6" fill="#9b9b9b"/>
<circle cx="296.00" cy="84.00" r="1.6" fill="#9b9b9b"/>
<circle cx="302.23" cy="98.80" r="1.6" fill="#9b9b9b"/>
<circle cx="302.33" cy="100.53" r="1.6" fill="#9b9b9b"/>
<circle cx="305.54" cy="89.84" r="1.6" fill="#9b9b9b"/>
<circle cx="298.78" cy="94.95" r="1.6" fill="#9b9b9b"/>
<circle cx="310.34" cy="100.04" r="1.6" fill="#9b9b9b"/>
<circle cx="304.39" cy="90.82" r="1.6" fill="#9b9b9b"/>
<circle cx="303.64" cy="95.86" r="1.6" fill="#9b9b9b"/>
<circle cx="306.47" cy="96.22" r="1.6" fill="#9b9b9b"/>
<circle cx="308.23" cy="92.77" r="1.6" fill="#9b9b9b"/>
<circle cx="306.18" cy="100.22" r="1.6" fill="#9b9b9b"/>
<circle cx="306.19" cy="98.83" r="1.6" fill="#9b9b9b"/>
<circle cx="304.12" cy="91.12" r="1.6" fill="#9b9b9b"/>
<circle cx="304.77" cy="89.52" r="1.6" fill="#9b9b9b"/>
<circle cx="304.88" cy="99.70" r="1.6" fill="#9b9b9b"/>
<circle cx="306.56" cy="100.99" r="1.6" fill="#9b9b9b"/>
<circle cx="308.16" cy="99.71" r="1.6" fill="#9b9b9b"/>
<circle cx="304.00" cy="95.81" r="1.6" fill="#9b9b9b"/>
<circle cx="313.92" cy="97.43" r="1.6" fill="#9b9b9b"/>
<circle cx="308.13" cy="97.58" r="1.6" fill="#9b9b9b"/>
<circle cx="313.31" cy="100.81" r="1.6" fill="#9b9b9b"/>
<circle cx="308.12" cy="93.73" r="1.6" fill="#9b9b9b"/>
<circle cx="304.33" cy="91.44" r="1.6" fill="#9b9b9b"/>
<circle cx="306.72" cy="93.03" r="1.6" fill="#9b9b9b"/>
<circle cx="306.93" cy="96.56" r="1.6" fill="#9b9b9b"/>
<circle cx="310.82" cy="93.45" r="1.6" fill="#9b9b9b"/>
<circle cx="306.10" cy="93.13" r="1.6" fill="#9b9b9b"/>
<circle cx="307.53" cy="93.19" r="1.6" fill="#9b9b9b"/>
<circle cx="302.67" cy="95.13" r="1.6" fill="#9b9b9b"/>
<circle cx="305.69" cy="100.91" r="1.6" fill="#9b9b9b"/>
<circle cx="304.95" cy="89.77" r="1.6" fill="#9b9b9b"/>
<circle cx="305.99" cy="89.71" r="1.6" fill="#9b9b9b"/>
<circle cx="299.82" cy="98.72" r="1.6" fill="#9b9b9b"/>
<circle cx="303.19" cy="89.61" r="1.6" fill="#9b9b9b"/>
<circle cx="309.13" cy="90.05" r="1.6" fill="#9b9b9b"/>
<circle cx="309.35" cy="91.80" r="1.6" fill="#9b9b9b"/>
<circle cx="313.24" cy="98.34" r="1.6" fill="#9b9b9b"/>
<circle cx="312.90" cy="93.53" r="1.6" fill="#9b9b9b"/>
<circle cx="302.73" cy="93.65" r="1.6" fill="#9b9b9b"/>
<circle cx="300.53" cy="90.76" r="1.6" fill="#9b9b9b"/>
<circle cx="305.14" cy="98.26" r="1.6" fill="#9b9b9b"/>
<circle cx="300.89" cy="82.09" r="1.6" fill="#9b9b9b"/>
<circle cx="298.61" cy="85.10" r="1.6" fill="#9b9b9b"/>
<circle cx="298.77" cy="63.93" r="1.6" fill="#9b9b9b"/>
<circle cx="300.33" cy="84.13" r="1.6" fill="#9b9b9b"/>
<circle cx="299.52" cy="84.35" r="1.6" fill="#9b9b9b"/>
<circle cx="300.14" cy="62.94" r="1.6" fill="#9b9b9b"/>
<circle cx="299.45" cy="58.21" r="1.6" fill="#9b9b9b"/>
<circle cx="298.73" cy="57.21" r="1.6" fill="#9b9b9b"/>
<circle cx="309.41" cy="86.90" r="1.6" fill="#9b9b9b"/>
<circle cx="307.57" cy="56.55" r="1.6" fill="#9b9b9b"/>
<circle cx="310.45" cy="72.07" r="1.6" fill="#9b9b9b"/>
<circle cx="308.42" cy="62.59" r="1.6" fill="#9b9b9b"/>
<circle cx="309.08" cy="81.44" r="1.6" fill="#9b9b9b"/>
<circle cx="308.59" cy="68.50" r="1.6" fill="#9b9b9b"/>
<circle cx="307.19" cy="84.31" r="1.6" fill="#9b9b9b"/>
<circle cx="307.11" cy="70.79" r="1.6" fill="#9b9b9b"/>
<circle cx="318.39" cy="93.65" r="1.6" fill="#9b9b9b"/>
<circle cx="326.18" cy="93.85" r="1.6" fill="#9b9b9b"/>
<circle cx="309.36" cy="91.27" r="1.6" fill="#9b9b9b"/>
<circle cx="302.75" cy="89.89" r="1.6" fill="#9b9b9b"/>
<circle cx="290.02" cy="92.12" r="1.6" fill="#9b9b9b"/>
<circle cx="303.40" cy="89.34" r="1.6" fill="#9b9b9b"/>
<circle cx="334.84" cy="94.93" r="1.6" fill="#9b9b9b"/>
<circle cx="303.42" cy="85.75" r="1.6" fill="#9b9b9b"/>
<circle cx="304.59" cy="90.65" r="1.6" fill="#9b9b9b"/>
<circle cx="297.16" cy="88.28" r="1.6" fill="#9b9b9b"/>
<circle cx="301.64" cy="92.41" r="1.6" fill="#9b9b9b"/>
<circle cx="331.28" cy="92.86" r="1.6" fill="#9b9b9b"/>
<circle cx="327.22" cy="89.03" r="1.6" fill="#9b9b9b"/>
<circle cx="299.14" cy="88.98" r="1.6" fill="#9b9b9b"/>
<circle cx="285.93" cy="90.41" r="1.6" fill="#9b9b9b"/>
<circle cx="320.04" cy="95.15" r="1.6" fill="#9b9b9b"/>
<circle cx="300.04" cy="91.93" r="1.6" fill="#9b9b9b"/>
<circle cx="311.78" cy="86.96" r="1.6" fill="#9b9b9b"/>
<circle cx="310.60" cy="91.14" r="1.6" fill="#9b9b9b"/>
<circle cx="312.18" cy="88.72" r="1.6" fill="#9b9b9b"/>
<circle cx="296.72" cy="86.90" r="1.6" fill="#9b9b9b"/>
<circle cx="311.64" cy="91.37" r="1.6" fill="#9b9b9b"/>
<circle cx="297.29" cy="94.27" r="1.6" fill="#9b9b9b"/>
<circle cx="307.63" cy="89.83" r="1.6" fill="#9b9b9b"/>
<circle cx="277.02" cy="89.26" r="1.6" fill="#9b9b9b"/>
<circle cx="310.89" cy="90.47" r="1.6" fill="#9b9b9b"/>
<circle cx="303.74" cy="92.41" r="1.6" fill="#9b9b9b"/>
<circle cx="316.29" cy="87.83" r="1.6" fill="#9b9b9b"/>
<circle cx="299.51" cy="88.57" r="1.6" fill="#9b9b9b"/>
<circle cx="317.84" cy="87.91" r="1.6" fill="#9b9b9b"/>
<line x1="297.80" y1="16.50" x2="297.80" y2="76.70" stroke="#707070" stroke-width="0.75" stroke-dasharray="3.2,2.0"/>
<line x1="313.00" y1="16.50" x2="313.00" y2="76.70" stroke="#707070" stroke-width="0.75" stroke-dasharray="3.2,2.0"/>
<line x1="268.70" y1="76.20" x2="341.00" y2="76.20" stroke="#707070" stroke-width="0.75" stroke-dasharray="3.2,2.0"/>
<rect x="311.60" y="69.80" width="3.00" height="3.00" fill="#d9465e"/>
<rect x="332.80" y="73.20" width="3.00" height="3.00" fill="#d9465e"/>
<rect x="342.80" y="75.00" width="3.00" height="3.00" fill="#d9465e"/>
<polygon points="295.50,30.20 293.57,33.88 297.43,33.88" fill="#3f6fc0"/>
<polygon points="297.10,42.20 295.18,45.88 299.03,45.88" fill="#3f6fc0"/>
<polygon points="296.00,65.70 294.07,69.38 297.93,69.38" fill="#3f6fc0"/>
<polygon points="295.10,67.60 293.18,71.28 297.03,71.28" fill="#3f6fc0"/>
<polygon points="268.00,59.20 266.07,62.88 269.93,62.88" fill="#3f6fc0"/>
<polygon points="273.20,66.50 271.27,70.17 275.12,70.17" fill="#3f6fc0"/>
<text x="325.90" y="20.80" font-size="3.4" font-family='"Liberation Serif", serif' fill="#000" stroke="#000" stroke-width="0.1" textLength="17.30" lengthAdjust="spacingAndGlyphs">Significance</text>
<rect x="326.00" y="23.00" width="2.80" height="2.30" fill="#d9465e"/>
<text x="330.80" y="25.30" font-size="3.4" font-family='"Liberation Serif", serif' fill="#000" stroke="#000" stroke-width="0.1" textLength="7.20" lengthAdjust="spacingAndGlyphs">up: 4</text>
<circle cx="327.40" cy="27.80" r="1.15" fill="#9b9b9b"/>
<text x="330.80" y="29.20" font-size="3.4" font-family='"Liberation Serif", serif' fill="#000" stroke="#000" stroke-width="0.1" textLength="17.10" lengthAdjust="spacingAndGlyphs">no_diff: 261</text>
<polygon points="327.35,29.54 325.92,32.27 328.78,32.27" fill="#3f6fc0"/>
<text x="330.80" y="32.30" font-size="3.4" font-family='"Liberation Serif", serif' fill="#000" stroke="#000" stroke-width="0.1" textLength="11.00" lengthAdjust="spacingAndGlyphs">down: 6</text>
<text x="262.80" y="34.10" font-size="3.8" font-family='"Liberation Serif", serif' fill="#111" stroke="#111" stroke-width="0.1" textLength="30.60" lengthAdjust="spacingAndGlyphs">11-Eicosenoic acid</text>
<text x="260.70" y="57.70" font-size="3.8" font-family='"Liberation Serif", serif' fill="#111" stroke="#111" stroke-width="0.1" textLength="29.60" lengthAdjust="spacingAndGlyphs">Galacturonic Acid</text>
<text x="260.70" y="68.90" font-size="3.8" font-family='"Liberation Serif", serif' fill="#111" stroke="#111" stroke-width="0.1" textLength="10.70" lengthAdjust="spacingAndGlyphs">Uridine</text>
<text x="323.00" y="75.80" font-size="3.8" font-family='"Liberation Serif", serif' fill="#111" stroke="#111" stroke-width="0.1" textLength="8.50" lengthAdjust="spacingAndGlyphs">Urea</text>
<text x="319.00" y="81.60" font-size="3.8" font-family='"Liberation Serif", serif' fill="#111" stroke="#111" stroke-width="0.1" textLength="27.80" lengthAdjust="spacingAndGlyphs">Cysteine-Glycine</text>
<line x1="257.60" y1="28.20" x2="259.20" y2="28.20" stroke="#777" stroke-width="0.4"/>
<text x="258.30" y="28.20" font-size="3.6" font-family='"Liberation Serif", serif' fill="#111" stroke="#111" stroke-width="0.1" text-anchor="middle" transform="rotate(-90 258.30 28.20)">4</text>
<line x1="257.60" y1="46.20" x2="259.20" y2="46.20" stroke="#777" stroke-width="0.4"/>
<text x="258.30" y="46.20" font-size="3.6" font-family='"Liberation Serif", serif' fill="#111" stroke="#111" stroke-width="0.1" text-anchor="middle" transform="rotate(-90 258.30 46.20)">3</text>
<line x1="257.60" y1="64.20" x2="259.20" y2="64.20" stroke="#777" stroke-width="0.4"/>
<text x="258.30" y="64.20" font-size="3.6" font-family='"Liberation Serif", serif' fill="#111" stroke="#111" stroke-width="0.1" text-anchor="middle" transform="rotate(-90 258.30 64.20)">2</text>
<line x1="257.60" y1="82.10" x2="259.20" y2="82.10" stroke="#777" stroke-width="0.4"/>
<text x="258.30" y="82.10" font-size="3.6" font-family='"Liberation Serif", serif' fill="#111" stroke="#111" stroke-width="0.1" text-anchor="middle" transform="rotate(-90 258.30 82.10)">1</text>
<line x1="257.60" y1="99.90" x2="259.20" y2="99.90" stroke="#777" stroke-width="0.4"/>
<text x="258.30" y="99.90" font-size="3.6" font-family='"Liberation Serif", serif' fill="#111" stroke="#111" stroke-width="0.1" text-anchor="middle" transform="rotate(-90 258.30 99.90)">0</text>
<line x1="260.20" y1="103.50" x2="260.20" y2="105.00" stroke="#777" stroke-width="0.4"/>
<text x="260.20" y="108.20" font-size="3.6" font-family='"Liberation Serif", serif' fill="#111" stroke="#111" stroke-width="0.1" text-anchor="middle">-6</text>
<line x1="282.60" y1="103.50" x2="282.60" y2="105.00" stroke="#777" stroke-width="0.4"/>
<text x="282.60" y="108.20" font-size="3.6" font-family='"Liberation Serif", serif' fill="#111" stroke="#111" stroke-width="0.1" text-anchor="middle">-3</text>
<line x1="305.20" y1="103.50" x2="305.20" y2="105.00" stroke="#777" stroke-width="0.4"/>
<text x="305.20" y="108.20" font-size="3.6" font-family='"Liberation Serif", serif' fill="#111" stroke="#111" stroke-width="0.1" text-anchor="middle">0</text>
<line x1="327.40" y1="103.50" x2="327.40" y2="105.00" stroke="#777" stroke-width="0.4"/>
<text x="327.40" y="108.20" font-size="3.6" font-family='"Liberation Serif", serif' fill="#111" stroke="#111" stroke-width="0.1" text-anchor="middle">3</text>
<text x="334.5" y="108.0" font-size="3.7" stroke="#222" stroke-width="0.1" font-family='"Liberation Serif", serif' fill="#222">log<tspan font-size="2.3" dy="0.9">2</tspan><tspan dy="-0.9">(FC)</tspan></text>
<text x="254.4" y="33" font-size="4.3" font-family='"Liberation Serif", serif' fill="#222" stroke="#222" stroke-width="0.08" text-anchor="middle" textLength="30" lengthAdjust="spacingAndGlyphs" transform="rotate(-90 254.4 33)">−log<tspan font-size="2.9" dy="1.0">10</tspan><tspan dy="-1.0">(</tspan><tspan font-style="italic">p</tspan> Value)</text>
<text x="355.90" y="8.10" font-size="7.5" font-family='"Liberation Sans", sans-serif' fill="#000" font-weight="bold" textLength="5.70" lengthAdjust="spacingAndGlyphs">C</text>
<text x="388.20" y="9.30" font-size="7.0" font-family='"Liberation Sans", sans-serif' fill="#000" stroke="#000" stroke-width="0.1" textLength="46.80" lengthAdjust="spacingAndGlyphs">NC vs PC group</text>
<text x="471.40" y="9.60" font-size="7.4" font-family='"Liberation Serif", serif' fill="#111" font-style="italic" textLength="57.80" lengthAdjust="spacingAndGlyphs">B. pseudocatenulatum</text>
<text x="530.40" y="9.60" font-size="7.3" font-family='"Liberation Sans", sans-serif' fill="#111" textLength="36.10" lengthAdjust="spacingAndGlyphs">vs PC group</text>
<rect x="364.70" y="15.20" width="99.70" height="90.90" fill="#fff" stroke="#909090" stroke-width="0.7"/>
<rect x="470.30" y="14.80" width="100.80" height="91.20" fill="#fff" stroke="#b8b8b8" stroke-width="0.9"/>
<rect x="578.00" y="14.30" width="61.70" height="91.40" fill="#fff" stroke="#8a8a8a" stroke-width="0.6"/>
<line x1="433.90" y1="26.00" x2="412.90" y2="27.70" stroke="#555" stroke-width="0.35"/>
<line x1="433.90" y1="26.00" x2="444.30" y2="45.20" stroke="#555" stroke-width="0.35"/>
<line x1="387.30" y1="27.10" x2="385.10" y2="47.80" stroke="#555" stroke-width="0.35" stroke-dasharray="0.6,0.6"/>
<line x1="382.70" y1="56.30" x2="395.30" y2="72.70" stroke="#555" stroke-width="0.35"/>
<line x1="395.30" y1="72.70" x2="415.10" y2="73.90" stroke="#555" stroke-width="0.35"/>
<line x1="444.30" y1="45.20" x2="435.40" y2="66.10" stroke="#555" stroke-width="0.35"/>
<line x1="451.90" y1="51.90" x2="457.40" y2="72.20" stroke="#555" stroke-width="0.35"/>
<line x1="457.40" y1="72.20" x2="455.40" y2="93.10" stroke="#555" stroke-width="0.35" stroke-dasharray="0.6,0.6"/>
<line x1="427.50" y1="83.80" x2="410.70" y2="96.60" stroke="#555" stroke-width="0.35"/>
<rect x="386.35" y="25.50" width="1.90" height="3.20" fill="#7a2f9e"/>
<rect x="432.95" y="24.40" width="1.90" height="3.20" fill="#7a2f9e"/>
<rect x="381.75" y="54.70" width="1.90" height="3.20" fill="#7a2f9e"/>
<rect x="434.45" y="64.50" width="1.90" height="3.20" fill="#7a2f9e"/>
<rect x="414.15" y="72.30" width="1.90" height="3.20" fill="#7a2f9e"/>
<rect x="456.45" y="70.60" width="1.90" height="3.20" fill="#7a2f9e"/>
<rect x="409.75" y="95.00" width="1.90" height="3.20" fill="#7a2f9e"/>
<polygon points="412.90,26.10 411.00,29.10 414.80,29.10" fill="#b6ee4a"/>
<polygon points="444.30,43.60 442.40,46.60 446.20,46.60" fill="#b6ee4a"/>
<polygon points="451.90,50.30 450.00,53.30 453.80,53.30" fill="#b6ee4a"/>
<polygon points="385.10,46.20 383.20,49.20 387.00,49.20" fill="#b6ee4a"/>
<polygon points="395.30,71.10 393.40,74.10 397.20,74.10" fill="#b6ee4a"/>
<polygon points="455.40,91.50 453.50,94.50 457.30,94.50" fill="#b6ee4a"/>
<polygon points="427.50,82.20 425.60,85.20 429.40,85.20" fill="#b6ee4a"/>
<text x="374.50" y="22.25" font-size="2.55" font-family='"Liberation Sans", sans-serif' fill="#222" font-weight="bold" textLength="22.90" lengthAdjust="spacingAndGlyphs">Ambiguous_taxa</text>
<text x="435.00" y="22.25" font-size="2.55" font-family='"Liberation Sans", sans-serif' fill="#222" font-weight="bold" textLength="19.00" lengthAdjust="spacingAndGlyphs">Alloprevotella</text>
<text x="408.00" y="32.05" font-size="2.55" font-family='"Liberation Sans", sans-serif' fill="#222" font-weight="bold" textLength="11.70" lengthAdjust="spacingAndGlyphs">Sedoheptulose</text>
<text x="423.10" y="44.45" font-size="2.55" font-family='"Liberation Sans", sans-serif' fill="#222" font-weight="bold" textLength="20.40" lengthAdjust="spacingAndGlyphs">Cerotinic Acid</text>
<text x="448.20" y="48.05" font-size="2.55" font-family='"Liberation Sans", sans-serif' fill="#222" font-weight="bold" textLength="13.90" lengthAdjust="spacingAndGlyphs">Isoleucine</text>
<text x="388.40" y="47.35" font-size="2.55" font-family='"Liberation Sans", sans-serif' fill="#222" font-weight="bold" textLength="31.30" lengthAdjust="spacingAndGlyphs">2_Hydroxycaproic acid</text>
<text x="366.80" y="53.15" font-size="2.55" font-family='"Liberation Sans", sans-serif' fill="#222" font-weight="bold" textLength="49.30" lengthAdjust="spacingAndGlyphs">Ruminococcaceae_NK4A214_group</text>
<text x="365.30" y="77.65" font-size="2.55" font-family='"Liberation Sans", sans-serif' fill="#222" font-weight="bold" textLength="31.70" lengthAdjust="spacingAndGlyphs">4_Hydroxybutyric Acid</text>
<text x="402.00" y="78.15" font-size="2.55" font-family='"Liberation Sans", sans-serif' fill="#222" font-weight="bold" textLength="45.00" lengthAdjust="spacingAndGlyphs">Lachnospiraceae_FCS020_group</text>
<text x="415.00" y="67.05" font-size="2.55" font-family='"Liberation Sans", sans-serif' fill="#222" font-weight="bold" textLength="17.00" lengthAdjust="spacingAndGlyphs">Oscillibacter</text>
<text x="430.00" y="73.15" font-size="2.55" font-family='"Liberation Sans", sans-serif' fill="#222" font-weight="bold" textLength="25.40" lengthAdjust="spacingAndGlyphs">Ruminiclostridium</text>
<text x="438.00" y="98.75" font-size="2.55" font-family='"Liberation Sans", sans-serif' fill="#222" font-weight="bold" textLength="25.00" lengthAdjust="spacingAndGlyphs">Cellobiuronic Acid</text>
<text x="404.40" y="84.75" font-size="2.55" font-family='"Liberation Sans", sans-serif' fill="#222" font-weight="bold" textLength="21.10" lengthAdjust="spacingAndGlyphs">Indoxyl Sulfate</text>
<text x="397.50" y="101.15" font-size="2.55" font-family='"Liberation Sans", sans-serif' fill="#222" font-weight="bold" textLength="28.50" lengthAdjust="spacingAndGlyphs">Escherichia_Shigella</text>
<line x1="524.10" y1="18.80" x2="508.40" y2="48.50" stroke="#555" stroke-width="0.35"/>
<line x1="543.40" y1="29.60" x2="562.60" y2="56.50" stroke="#555" stroke-width="0.35"/>
<line x1="508.40" y1="48.50" x2="480.60" y2="66.60" stroke="#555" stroke-width="0.35"/>
<line x1="488.40" y1="77.70" x2="518.00" y2="94.20" stroke="#555" stroke-width="0.35"/>
<line x1="560.50" y1="66.00" x2="539.00" y2="90.90" stroke="#555" stroke-width="0.35" stroke-dasharray="0.6,0.6"/>
<rect x="507.45" y="46.90" width="1.90" height="3.20" fill="#7a2f9e"/>
<rect x="561.65" y="54.90" width="1.90" height="3.20" fill="#7a2f9e"/>
<rect x="487.45" y="76.10" width="1.90" height="3.20" fill="#7a2f9e"/>
<rect x="559.55" y="64.40" width="1.90" height="3.20" fill="#7a2f9e"/>
<polygon points="524.10,17.20 522.20,20.20 526.00,20.20" fill="#b6ee4a"/>
<polygon points="543.40,28.00 541.50,31.00 545.30,31.00" fill="#b6ee4a"/>
<polygon points="480.60,65.00 478.70,68.00 482.50,68.00" fill="#b6ee4a"/>
<polygon points="518.00,92.60 516.10,95.60 519.90,95.60" fill="#b6ee4a"/>
<polygon points="539.00,89.30 537.10,92.30 540.90,92.30" fill="#b6ee4a"/>
<text x="507.00" y="18.95" font-size="2.55" font-family='"Liberation Sans", sans-serif' fill="#222" font-weight="bold" textLength="15.80" lengthAdjust="spacingAndGlyphs">Kynurenine</text>
<text x="491.00" y="46.35" font-size="2.55" font-family='"Liberation Sans", sans-serif' fill="#222" font-weight="bold" textLength="17.00" lengthAdjust="spacingAndGlyphs">Defluviitalea</text>
<text x="536.00" y="25.35" font-size="2.55" font-family='"Liberation Sans", sans-serif' fill="#222" font-weight="bold" textLength="19.70" lengthAdjust="spacingAndGlyphs">Deoxycholic Acid</text>
<text x="519.30" y="57.45" font-size="2.55" font-family='"Liberation Sans", sans-serif' fill="#222" font-weight="bold" textLength="39.70" lengthAdjust="spacingAndGlyphs">Ruminococcaceae_UCG_013</text>
<text x="472.40" y="72.05" font-size="2.55" font-family='"Liberation Sans", sans-serif' fill="#222" font-weight="bold" textLength="23.10" lengthAdjust="spacingAndGlyphs">5_Benzylglucose</text>
<text x="492.00" y="77.75" font-size="2.55" font-family='"Liberation Sans", sans-serif' fill="#222" font-weight="bold" textLength="25.70" lengthAdjust="spacingAndGlyphs">Ruminiclostridium</text>
<text x="495.00" y="97.95" font-size="2.55" font-family='"Liberation Sans", sans-serif' fill="#222" font-weight="bold" textLength="22.70" lengthAdjust="spacingAndGlyphs">Docosanoic acid</text>
<text x="543.70" y="67.75" font-size="2.55" font-family='"Liberation Sans", sans-serif' fill="#222" font-weight="bold" textLength="15.20" lengthAdjust="spacingAndGlyphs">Parvibacter</text>
<text x="527.00" y="95.75" font-size="2.55" font-family='"Liberation Sans", sans-serif' fill="#222" font-weight="bold" textLength="26.60" lengthAdjust="spacingAndGlyphs">Tetradecanoic acid</text>
<text x="581.40" y="27.00" font-size="7.6" font-family='"Liberation Sans", sans-serif' fill="#000" stroke="#000" stroke-width="0.15" textLength="15.50" lengthAdjust="spacingAndGlyphs">Type</text>
<line x1="584.30" y1="43.00" x2="594.30" y2="43.00" stroke="#7a2f9e" stroke-width="0.5"/>
<circle cx="584.60" cy="43.00" r="0.5" fill="#7a2f9e"/>
<polygon points="594.80,43.00 592.80,42.20 592.80,43.80" fill="#7a2f9e"/>
<text x="596.90" y="44.10" font-size="3.2" font-family='"Liberation Sans", sans-serif' fill="#111" stroke="#111" stroke-width="0.1" textLength="11.40" lengthAdjust="spacingAndGlyphs">Genus</text>
<line x1="583.80" y1="55.40" x2="593.50" y2="55.40" stroke="#8fe83a" stroke-width="0.5"/>
<circle cx="584.10" cy="55.40" r="0.5" fill="#8fe83a"/>
<polygon points="594.00,55.40 592.00,54.60 592.00,56.20" fill="#8fe83a"/>
<text x="596.00" y="56.50" font-size="3.2" font-family='"Liberation Sans", sans-serif' fill="#111" stroke="#111" stroke-width="0.1" textLength="21.00" lengthAdjust="spacingAndGlyphs">Metabolome</text>
<text x="578.70" y="70.20" font-size="7.6" font-family='"Liberation Sans", sans-serif' fill="#000" stroke="#000" stroke-width="0.15" textLength="26.60" lengthAdjust="spacingAndGlyphs">Relation</text>
<line x1="584.80" y1="81.90" x2="595.20" y2="81.90" stroke="#333" stroke-width="0.45"/>
<circle cx="585.10" cy="81.90" r="0.5" fill="#333"/>
<polygon points="595.70,81.90 593.70,81.10 593.70,82.70" fill="#333"/>
<text x="597.20" y="83.00" font-size="3.2" font-family='"Liberation Sans", sans-serif' fill="#111" stroke="#111" stroke-width="0.1" textLength="32.40" lengthAdjust="spacingAndGlyphs">Positive correlation</text>
<line x1="584.30" y1="98.30" x2="594.30" y2="98.30" stroke="#333" stroke-width="0.45" stroke-dasharray="1.2,0.8"/>
<circle cx="584.60" cy="98.30" r="0.5" fill="#333"/>
<polygon points="594.80,98.30 592.80,97.50 592.80,99.10" fill="#333"/>
<text x="597.20" y="99.40" font-size="3.2" font-family='"Liberation Sans", sans-serif' fill="#111" stroke="#111" stroke-width="0.1" textLength="34.10" lengthAdjust="spacingAndGlyphs">Negative correlation</text>
<text x="1.80" y="135.80" font-size="8.0" font-family='"Liberation Serif", serif' fill="#000" font-weight="bold" textLength="6.30" lengthAdjust="spacingAndGlyphs">D</text>
<rect x="52.30" y="184.66" width="21.50" height="25.24" fill="url(#gK)" stroke="#111" stroke-width="0.55"/>
<circle cx="63.70" cy="174.80" r="1.1" fill="#000"/>
<circle cx="63.70" cy="179.10" r="1.1" fill="#000"/>
<circle cx="59.80" cy="185.20" r="1.1" fill="#000"/>
<circle cx="65.60" cy="185.20" r="1.1" fill="#000"/>
<circle cx="61.50" cy="191.20" r="1.1" fill="#000"/>
<circle cx="65.80" cy="191.00" r="1.1" fill="#000"/>
<circle cx="67.30" cy="189.00" r="1.1" fill="#000"/>
<circle cx="60.90" cy="189.00" r="1.1" fill="#000"/>
<line x1="63.05" y1="184.66" x2="63.05" y2="182.98" stroke="#111" stroke-width="0.45"/>
<line x1="60.45" y1="182.98" x2="65.65" y2="182.98" stroke="#111" stroke-width="0.45"/>
<line x1="60.45" y1="186.34" x2="65.65" y2="186.34" stroke="#111" stroke-width="0.45"/>
<line x1="63.05" y1="184.66" x2="63.05" y2="186.34" stroke="#111" stroke-width="0.45"/>
<line x1="63.50" y1="210.50" x2="63.50" y2="213.00" stroke="#111" stroke-width="0.9"/>
<rect x="84.50" y="180.45" width="21.10" height="29.45" fill="url(#gR)" stroke="#111" stroke-width="0.55"/>
<rect x="86.75" y="171.25" width="2.10" height="2.10" fill="#000"/>
<rect x="92.35" y="171.25" width="2.10" height="2.10" fill="#000"/>
<rect x="95.95" y="171.25" width="2.10" height="2.10" fill="#000"/>
<rect x="94.45" y="174.45" width="2.10" height="2.10" fill="#000"/>
<rect x="85.25" y="183.45" width="2.10" height="2.10" fill="#000"/>
<rect x="88.85" y="184.55" width="2.10" height="2.10" fill="#000"/>
<rect x="92.75" y="184.55" width="2.10" height="2.10" fill="#000"/>
<rect x="96.65" y="184.55" width="2.10" height="2.10" fill="#000"/>
<rect x="101.35" y="183.45" width="2.10" height="2.10" fill="#000"/>
<line x1="95.05" y1="180.45" x2="95.05" y2="178.35" stroke="#111" stroke-width="0.45"/>
<line x1="92.45" y1="178.35" x2="97.65" y2="178.35" stroke="#111" stroke-width="0.45"/>
<line x1="92.45" y1="182.56" x2="97.65" y2="182.56" stroke="#111" stroke-width="0.45"/>
<line x1="95.05" y1="180.45" x2="95.05" y2="182.56" stroke="#111" stroke-width="0.45"/>
<line x1="95.50" y1="210.50" x2="95.50" y2="213.00" stroke="#111" stroke-width="0.9"/>
<rect x="116.20" y="167.83" width="21.90" height="42.07" fill="url(#gG)" stroke="#111" stroke-width="0.55"/>
<polygon points="124.60,152.00 123.40,154.20 125.80,154.20" fill="#000"/>
<polygon points="128.20,154.80 127.00,157.00 129.40,157.00" fill="#000"/>
<polygon points="126.00,160.90 124.80,163.10 127.20,163.10" fill="#000"/>
<polygon points="126.00,165.60 124.80,167.80 127.20,167.80" fill="#000"/>
<polygon points="121.30,174.80 120.10,177.00 122.50,177.00" fill="#000"/>
<polygon points="125.00,177.40 123.80,179.60 126.20,179.60" fill="#000"/>
<polygon points="128.90,177.40 127.70,179.60 130.10,179.60" fill="#000"/>
<polygon points="132.10,174.80 130.90,177.00 133.30,177.00" fill="#000"/>
<polygon points="127.10,166.70 125.90,168.90 128.30,168.90" fill="#000"/>
<line x1="127.15" y1="167.83" x2="127.15" y2="164.89" stroke="#111" stroke-width="0.45"/>
<line x1="124.55" y1="164.89" x2="129.75" y2="164.89" stroke="#111" stroke-width="0.45"/>
<line x1="124.55" y1="170.78" x2="129.75" y2="170.78" stroke="#111" stroke-width="0.45"/>
<line x1="127.15" y1="167.83" x2="127.15" y2="170.78" stroke="#111" stroke-width="0.45"/>
<line x1="127.50" y1="210.50" x2="127.50" y2="213.00" stroke="#111" stroke-width="0.9"/>
<line x1="47.50" y1="146.30" x2="47.50" y2="211.00" stroke="#111" stroke-width="0.9"/>
<line x1="47.50" y1="210.50" x2="142.70" y2="210.50" stroke="#111" stroke-width="1.0"/>
<line x1="44.50" y1="209.50" x2="47.30" y2="209.50" stroke="#111" stroke-width="0.8"/>
<text x="44.30" y="211.40" font-size="4.3" font-family='"Liberation Sans", sans-serif' fill="#222" stroke="#222" stroke-width="0.15" text-anchor="end">0</text>
<line x1="44.50" y1="188.50" x2="47.30" y2="188.50" stroke="#111" stroke-width="0.8"/>
<text x="44.30" y="190.37" font-size="4.3" font-family='"Liberation Sans", sans-serif' fill="#222" stroke="#222" stroke-width="0.15" text-anchor="end">500</text>
<line x1="44.50" y1="167.50" x2="47.30" y2="167.50" stroke="#111" stroke-width="0.8"/>
<text x="44.30" y="169.33" font-size="4.3" font-family='"Liberation Sans", sans-serif' fill="#222" stroke="#222" stroke-width="0.15" text-anchor="end">1000</text>
<line x1="44.50" y1="146.50" x2="47.30" y2="146.50" stroke="#111" stroke-width="0.8"/>
<text x="44.30" y="148.30" font-size="4.3" font-family='"Liberation Sans", sans-serif' fill="#222" stroke="#222" stroke-width="0.15" text-anchor="end">1500</text>
<line x1="98.70" y1="147.80" x2="125.30" y2="147.80" stroke="#222" stroke-width="0.7"/>
<line x1="98.70" y1="147.45" x2="98.70" y2="148.90" stroke="#222" stroke-width="0.7"/>
<line x1="125.30" y1="147.45" x2="125.30" y2="148.90" stroke="#222" stroke-width="0.7"/>
<text x="112.00" y="146.80" font-size="8.0" font-family='"Liberation Sans", sans-serif' fill="#111" text-anchor="middle" font-weight="bold">*</text>
<text x="30.90" y="162.30" font-size="4.9" font-family='"Liberation Sans", sans-serif' fill="#6e6e6e" stroke="#6e6e6e" stroke-width="0.12" text-anchor="middle" textLength="29.40" lengthAdjust="spacingAndGlyphs" transform="rotate(-90 30.90 162.30)">Acetate (ug/g)</text>
<text x="63.10" y="220.60" font-size="3.5" font-family='"Liberation Sans", sans-serif' fill="#000" textLength="5.90" lengthAdjust="spacingAndGlyphs" stroke="#000" stroke-width="0.12">NC</text>
<text x="88.20" y="220.60" font-size="3.5" font-family='"Liberation Sans", sans-serif' fill="#000" textLength="5.60" lengthAdjust="spacingAndGlyphs" stroke="#000" stroke-width="0.12">PC</text>
<text x="98.90" y="220.60" font-size="3.5" font-family='"Liberation Sans", sans-serif' fill="#000" font-style="italic" textLength="41.90" lengthAdjust="spacingAndGlyphs" stroke="#000" stroke-width="0.12">B.pseudocatenulatum</text>
<rect x="173.20" y="185.02" width="21.40" height="24.78" fill="url(#gK)" stroke="#111" stroke-width="0.55"/>
<circle cx="183.80" cy="155.70" r="1.1" fill="#000"/>
<circle cx="183.80" cy="163.00" r="1.1" fill="#000"/>
<circle cx="185.20" cy="186.50" r="1.1" fill="#000"/>
<circle cx="181.30" cy="192.00" r="1.1" fill="#000"/>
<circle cx="188.00" cy="192.50" r="1.1" fill="#000"/>
<circle cx="191.20" cy="192.00" r="1.1" fill="#000"/>
<circle cx="182.80" cy="201.00" r="1.1" fill="#000"/>
<circle cx="185.70" cy="199.70" r="1.1" fill="#000"/>
<line x1="183.90" y1="185.02" x2="183.90" y2="179.14" stroke="#111" stroke-width="0.45"/>
<line x1="181.30" y1="179.14" x2="186.50" y2="179.14" stroke="#111" stroke-width="0.45"/>
<line x1="181.30" y1="190.90" x2="186.50" y2="190.90" stroke="#111" stroke-width="0.45"/>
<line x1="183.90" y1="185.02" x2="183.90" y2="190.90" stroke="#111" stroke-width="0.45"/>
<line x1="183.50" y1="210.50" x2="183.50" y2="213.00" stroke="#111" stroke-width="0.9"/>
<rect x="205.00" y="197.62" width="21.00" height="12.18" fill="url(#gR)" stroke="#111" stroke-width="0.55"/>
<rect x="210.95" y="194.95" width="2.10" height="2.10" fill="#000"/>
<rect x="214.95" y="195.95" width="2.10" height="2.10" fill="#000"/>
<rect x="218.95" y="194.95" width="2.10" height="2.10" fill="#000"/>
<rect x="222.95" y="195.95" width="2.10" height="2.10" fill="#000"/>
<rect x="207.95" y="196.95" width="2.10" height="2.10" fill="#000"/>
<rect x="212.95" y="198.45" width="2.10" height="2.10" fill="#000"/>
<rect x="216.95" y="198.45" width="2.10" height="2.10" fill="#000"/>
<rect x="213.95" y="193.45" width="2.10" height="2.10" fill="#000"/>
<line x1="215.50" y1="197.62" x2="215.50" y2="196.78" stroke="#111" stroke-width="0.45"/>
<line x1="212.90" y1="196.78" x2="218.10" y2="196.78" stroke="#111" stroke-width="0.45"/>
<line x1="212.90" y1="198.46" x2="218.10" y2="198.46" stroke="#111" stroke-width="0.45"/>
<line x1="215.50" y1="197.62" x2="215.50" y2="198.46" stroke="#111" stroke-width="0.45"/>
<line x1="215.50" y1="210.50" x2="215.50" y2="213.00" stroke="#111" stroke-width="0.9"/>
<rect x="236.50" y="195.52" width="21.50" height="14.28" fill="url(#gG)" stroke="#111" stroke-width="0.55"/>
<polygon points="247.80,189.30 246.60,191.50 249.00,191.50" fill="#000"/>
<polygon points="239.90,192.40 238.70,194.60 241.10,194.60" fill="#000"/>
<polygon points="243.80,192.40 242.60,194.60 245.00,194.60" fill="#000"/>
<polygon points="251.40,193.10 250.20,195.30 252.60,195.30" fill="#000"/>
<polygon points="255.00,193.10 253.80,195.30 256.20,195.30" fill="#000"/>
<polygon points="246.60,194.10 245.40,196.30 247.80,196.30" fill="#000"/>
<polygon points="241.80,196.00 240.60,198.20 243.00,198.20" fill="#000"/>
<polygon points="249.00,196.50 247.80,198.70 250.20,198.70" fill="#000"/>
<polygon points="253.40,196.00 252.20,198.20 254.60,198.20" fill="#000"/>
<line x1="247.25" y1="195.52" x2="247.25" y2="194.68" stroke="#111" stroke-width="0.45"/>
<line x1="244.65" y1="194.68" x2="249.85" y2="194.68" stroke="#111" stroke-width="0.45"/>
<line x1="244.65" y1="196.36" x2="249.85" y2="196.36" stroke="#111" stroke-width="0.45"/>
<line x1="247.25" y1="195.52" x2="247.25" y2="196.36" stroke="#111" stroke-width="0.45"/>
<line x1="247.50" y1="210.50" x2="247.50" y2="213.00" stroke="#111" stroke-width="0.9"/>
<line x1="167.50" y1="146.30" x2="167.50" y2="211.00" stroke="#111" stroke-width="0.9"/>
<line x1="167.50" y1="210.50" x2="262.50" y2="210.50" stroke="#111" stroke-width="1.0"/>
<line x1="164.70" y1="209.50" x2="167.50" y2="209.50" stroke="#111" stroke-width="0.8"/>
<text x="164.50" y="211.30" font-size="4.3" font-family='"Liberation Sans", sans-serif' fill="#222" stroke="#222" stroke-width="0.15" text-anchor="end">0</text>
<line x1="164.70" y1="188.50" x2="167.50" y2="188.50" stroke="#111" stroke-width="0.8"/>
<text x="164.50" y="190.30" font-size="4.3" font-family='"Liberation Sans", sans-serif' fill="#222" stroke="#222" stroke-width="0.15" text-anchor="end">50</text>
<line x1="164.70" y1="167.50" x2="167.50" y2="167.50" stroke="#111" stroke-width="0.8"/>
<text x="164.50" y="169.30" font-size="4.3" font-family='"Liberation Sans", sans-serif' fill="#222" stroke="#222" stroke-width="0.15" text-anchor="end">100</text>
<line x1="164.70" y1="146.50" x2="167.50" y2="146.50" stroke="#111" stroke-width="0.8"/>
<text x="164.50" y="148.30" font-size="4.3" font-family='"Liberation Sans", sans-serif' fill="#222" stroke="#222" stroke-width="0.15" text-anchor="end">150</text>
<line x1="186.00" y1="146.80" x2="213.30" y2="146.80" stroke="#222" stroke-width="0.7"/>
<line x1="186.00" y1="146.45" x2="186.00" y2="147.90" stroke="#222" stroke-width="0.7"/>
<line x1="213.30" y1="146.45" x2="213.30" y2="147.90" stroke="#222" stroke-width="0.7"/>
<text x="199.65" y="145.80" font-size="8.0" font-family='"Liberation Sans", sans-serif' fill="#111" text-anchor="middle" font-weight="bold">*</text>
<line x1="215.20" y1="146.80" x2="243.00" y2="146.80" stroke="#222" stroke-width="0.7"/>
<line x1="215.20" y1="146.45" x2="215.20" y2="147.90" stroke="#222" stroke-width="0.7"/>
<line x1="243.00" y1="146.45" x2="243.00" y2="147.90" stroke="#222" stroke-width="0.7"/>
<text x="229.10" y="145.80" font-size="8.0" font-family='"Liberation Sans", sans-serif' fill="#111" text-anchor="middle" font-weight="bold">*</text>
<text x="153.80" y="177.40" font-size="4.9" font-family='"Liberation Sans", sans-serif' fill="#6e6e6e" stroke="#6e6e6e" stroke-width="0.12" text-anchor="middle" textLength="60.20" lengthAdjust="spacingAndGlyphs" transform="rotate(-90 153.80 177.40)">2-methylbutyric acid(ug/g)</text>
<text x="180.90" y="220.60" font-size="3.5" font-family='"Liberation Sans", sans-serif' fill="#000" textLength="5.90" lengthAdjust="spacingAndGlyphs" stroke="#000" stroke-width="0.12">NC</text>
<text x="205.80" y="220.60" font-size="3.5" font-family='"Liberation Sans", sans-serif' fill="#000" textLength="5.10" lengthAdjust="spacingAndGlyphs" stroke="#000" stroke-width="0.12">PC</text>
<text x="216.00" y="220.60" font-size="3.5" font-family='"Liberation Sans", sans-serif' fill="#000" font-style="italic" textLength="42.30" lengthAdjust="spacingAndGlyphs" stroke="#000" stroke-width="0.12">B.pseudocatenulatum</text>
<rect x="290.40" y="163.60" width="21.10" height="46.20" fill="url(#gK)" stroke="#111" stroke-width="0.55"/>
<circle cx="301.40" cy="151.20" r="1.1" fill="#000"/>
<circle cx="301.40" cy="154.80" r="1.1" fill="#000"/>
<circle cx="300.70" cy="158.80" r="1.1" fill="#000"/>
<circle cx="303.50" cy="160.00" r="1.1" fill="#000"/>
<circle cx="299.50" cy="163.70" r="1.1" fill="#000"/>
<circle cx="303.10" cy="166.00" r="1.1" fill="#000"/>
<circle cx="301.40" cy="169.70" r="1.1" fill="#000"/>
<circle cx="301.40" cy="173.80" r="1.1" fill="#000"/>
<circle cx="301.40" cy="176.90" r="1.1" fill="#000"/>
<line x1="300.95" y1="163.60" x2="300.95" y2="161.08" stroke="#111" stroke-width="0.45"/>
<line x1="298.35" y1="161.08" x2="303.55" y2="161.08" stroke="#111" stroke-width="0.45"/>
<line x1="298.35" y1="166.12" x2="303.55" y2="166.12" stroke="#111" stroke-width="0.45"/>
<line x1="300.95" y1="163.60" x2="300.95" y2="166.12" stroke="#111" stroke-width="0.45"/>
<line x1="300.50" y1="210.50" x2="300.50" y2="213.00" stroke="#111" stroke-width="0.9"/>
<rect x="322.10" y="180.82" width="21.65" height="28.98" fill="url(#gR)" stroke="#111" stroke-width="0.55"/>
<rect x="322.95" y="177.75" width="2.10" height="2.10" fill="#000"/>
<rect x="326.15" y="178.25" width="2.10" height="2.10" fill="#000"/>
<rect x="328.95" y="178.25" width="2.10" height="2.10" fill="#000"/>
<rect x="332.15" y="176.95" width="2.10" height="2.10" fill="#000"/>
<rect x="334.95" y="176.95" width="2.10" height="2.10" fill="#000"/>
<rect x="338.15" y="177.75" width="2.10" height="2.10" fill="#000"/>
<rect x="340.95" y="178.25" width="2.10" height="2.10" fill="#000"/>
<rect x="325.45" y="180.45" width="2.10" height="2.10" fill="#000"/>
<rect x="331.45" y="187.85" width="2.10" height="2.10" fill="#000"/>
<line x1="332.93" y1="180.82" x2="332.93" y2="179.77" stroke="#111" stroke-width="0.45"/>
<line x1="330.32" y1="179.77" x2="335.53" y2="179.77" stroke="#111" stroke-width="0.45"/>
<line x1="330.32" y1="181.87" x2="335.53" y2="181.87" stroke="#111" stroke-width="0.45"/>
<line x1="332.93" y1="180.82" x2="332.93" y2="181.87" stroke="#111" stroke-width="0.45"/>
<line x1="332.50" y1="210.50" x2="332.50" y2="213.00" stroke="#111" stroke-width="0.9"/>
<rect x="354.00" y="176.62" width="21.20" height="33.18" fill="url(#gG)" stroke="#111" stroke-width="0.55"/>
<polygon points="363.70,166.40 362.50,168.60 364.90,168.60" fill="#000"/>
<polygon points="361.30,173.20 360.10,175.40 362.50,175.40" fill="#000"/>
<polygon points="357.70,177.00 356.50,179.20 358.90,179.20" fill="#000"/>
<polygon points="361.30,178.00 360.10,180.20 362.50,180.20" fill="#000"/>
<polygon points="365.00,178.00 363.80,180.20 366.20,180.20" fill="#000"/>
<polygon points="368.50,178.00 367.30,180.20 369.70,180.20" fill="#000"/>
<polygon points="372.00,178.00 370.80,180.20 373.20,180.20" fill="#000"/>
<polygon points="363.00,174.40 361.80,176.60 364.20,176.60" fill="#000"/>
<line x1="364.60" y1="176.62" x2="364.60" y2="174.94" stroke="#111" stroke-width="0.45"/>
<line x1="362.00" y1="174.94" x2="367.20" y2="174.94" stroke="#111" stroke-width="0.45"/>
<line x1="362.00" y1="178.30" x2="367.20" y2="178.30" stroke="#111" stroke-width="0.45"/>
<line x1="364.60" y1="176.62" x2="364.60" y2="178.30" stroke="#111" stroke-width="0.45"/>
<line x1="364.50" y1="210.50" x2="364.50" y2="213.00" stroke="#111" stroke-width="0.9"/>
<line x1="285.50" y1="146.30" x2="285.50" y2="211.00" stroke="#111" stroke-width="0.9"/>
<line x1="285.50" y1="210.50" x2="380.50" y2="210.50" stroke="#111" stroke-width="1.0"/>
<line x1="283.00" y1="209.50" x2="285.80" y2="209.50" stroke="#111" stroke-width="0.8"/>
<text x="282.80" y="211.30" font-size="4.3" font-family='"Liberation Sans", sans-serif' fill="#222" stroke="#222" stroke-width="0.15" text-anchor="end">0</text>
<line x1="283.00" y1="188.50" x2="285.80" y2="188.50" stroke="#111" stroke-width="0.8"/>
<text x="282.80" y="190.30" font-size="4.3" font-family='"Liberation Sans", sans-serif' fill="#222" stroke="#222" stroke-width="0.15" text-anchor="end">100</text>
<line x1="283.00" y1="167.50" x2="285.80" y2="167.50" stroke="#111" stroke-width="0.8"/>
<text x="282.80" y="169.30" font-size="4.3" font-family='"Liberation Sans", sans-serif' fill="#222" stroke="#222" stroke-width="0.15" text-anchor="end">200</text>
<line x1="283.00" y1="146.50" x2="285.80" y2="146.50" stroke="#111" stroke-width="0.8"/>
<text x="282.80" y="148.30" font-size="4.3" font-family='"Liberation Sans", sans-serif' fill="#222" stroke="#222" stroke-width="0.15" text-anchor="end">300</text>
<line x1="303.80" y1="144.40" x2="330.50" y2="144.40" stroke="#222" stroke-width="0.7"/>
<line x1="303.80" y1="144.05" x2="303.80" y2="145.50" stroke="#222" stroke-width="0.7"/>
<line x1="330.50" y1="144.05" x2="330.50" y2="145.50" stroke="#222" stroke-width="0.7"/>
<text x="317.15" y="143.40" font-size="8.0" font-family='"Liberation Sans", sans-serif' fill="#111" text-anchor="middle" font-weight="bold">**</text>
<line x1="333.00" y1="144.40" x2="359.60" y2="144.40" stroke="#222" stroke-width="0.7"/>
<line x1="333.00" y1="144.05" x2="333.00" y2="145.50" stroke="#222" stroke-width="0.7"/>
<line x1="359.60" y1="144.05" x2="359.60" y2="145.50" stroke="#222" stroke-width="0.7"/>
<text x="346.30" y="143.40" font-size="8.0" font-family='"Liberation Sans", sans-serif' fill="#111" text-anchor="middle" font-weight="bold">**</text>
<text x="270.20" y="171.35" font-size="4.9" font-family='"Liberation Sans", sans-serif' fill="#6e6e6e" stroke="#6e6e6e" stroke-width="0.12" text-anchor="middle" textLength="51.30" lengthAdjust="spacingAndGlyphs" transform="rotate(-90 270.20 171.35)">Propionic acid(ug/g)</text>
<text x="299.50" y="220.60" font-size="3.5" font-family='"Liberation Sans", sans-serif' fill="#000" textLength="5.80" lengthAdjust="spacingAndGlyphs" stroke="#000" stroke-width="0.12">NC</text>
<text x="323.90" y="220.60" font-size="3.5" font-family='"Liberation Sans", sans-serif' fill="#000" textLength="5.50" lengthAdjust="spacingAndGlyphs" stroke="#000" stroke-width="0.12">PC</text>
<text x="335.00" y="220.60" font-size="3.5" font-family='"Liberation Sans", sans-serif' fill="#000" font-style="italic" textLength="42.30" lengthAdjust="spacingAndGlyphs" stroke="#000" stroke-width="0.12">B.pseudocatenulatum</text>
<rect x="411.40" y="189.30" width="21.60" height="20.70" fill="url(#gK)" stroke="#111" stroke-width="0.55"/>
<circle cx="415.80" cy="185.80" r="1.1" fill="#000"/>
<circle cx="418.70" cy="187.70" r="1.1" fill="#000"/>
<circle cx="422.30" cy="187.20" r="1.1" fill="#000"/>
<circle cx="425.40" cy="187.70" r="1.1" fill="#000"/>
<circle cx="428.30" cy="186.70" r="1.1" fill="#000"/>
<circle cx="420.60" cy="193.00" r="1.1" fill="#000"/>
<circle cx="424.70" cy="193.00" r="1.1" fill="#000"/>
<circle cx="416.30" cy="189.60" r="1.1" fill="#000"/>
<line x1="422.20" y1="189.30" x2="422.20" y2="188.10" stroke="#111" stroke-width="0.45"/>
<line x1="419.60" y1="188.10" x2="424.80" y2="188.10" stroke="#111" stroke-width="0.45"/>
<line x1="419.60" y1="190.49" x2="424.80" y2="190.49" stroke="#111" stroke-width="0.45"/>
<line x1="422.20" y1="189.30" x2="422.20" y2="190.49" stroke="#111" stroke-width="0.45"/>
<line x1="422.50" y1="210.50" x2="422.50" y2="213.00" stroke="#111" stroke-width="0.9"/>
<rect x="442.70" y="191.29" width="21.60" height="18.71" fill="url(#gR)" stroke="#111" stroke-width="0.55"/>
<rect x="452.45" y="183.05" width="2.10" height="2.10" fill="#000"/>
<rect x="446.45" y="186.65" width="2.10" height="2.10" fill="#000"/>
<rect x="450.05" y="187.15" width="2.10" height="2.10" fill="#000"/>
<rect x="453.65" y="187.15" width="2.10" height="2.10" fill="#000"/>
<rect x="457.25" y="186.65" width="2.10" height="2.10" fill="#000"/>
<rect x="459.65" y="187.85" width="2.10" height="2.10" fill="#000"/>
<rect x="448.85" y="190.95" width="2.10" height="2.10" fill="#000"/>
<rect x="452.45" y="193.85" width="2.10" height="2.10" fill="#000"/>
<rect x="453.65" y="200.55" width="2.10" height="2.10" fill="#000"/>
<rect x="451.25" y="197.45" width="2.10" height="2.10" fill="#000"/>
<line x1="453.50" y1="191.29" x2="453.50" y2="189.30" stroke="#111" stroke-width="0.45"/>
<line x1="450.90" y1="189.30" x2="456.10" y2="189.30" stroke="#111" stroke-width="0.45"/>
<line x1="450.90" y1="193.28" x2="456.10" y2="193.28" stroke="#111" stroke-width="0.45"/>
<line x1="453.50" y1="191.29" x2="453.50" y2="193.28" stroke="#111" stroke-width="0.45"/>
<line x1="453.50" y1="210.50" x2="453.50" y2="213.00" stroke="#111" stroke-width="0.9"/>
<rect x="474.40" y="178.15" width="21.30" height="31.85" fill="url(#gG)" stroke="#111" stroke-width="0.55"/>
<polygon points="484.40,163.60 483.20,165.80 485.60,165.80" fill="#000"/>
<polygon points="488.80,169.10 487.60,171.30 490.00,171.30" fill="#000"/>
<polygon points="485.60,170.80 484.40,173.00 486.80,173.00" fill="#000"/>
<polygon points="480.80,173.20 479.60,175.40 482.00,175.40" fill="#000"/>
<polygon points="486.80,174.40 485.60,176.60 488.00,176.60" fill="#000"/>
<polygon points="483.20,180.40 482.00,182.60 484.40,182.60" fill="#000"/>
<polygon points="488.80,185.90 487.60,188.10 490.00,188.10" fill="#000"/>
<polygon points="483.20,190.00 482.00,192.20 484.40,192.20" fill="#000"/>
<polygon points="489.70,181.10 488.50,183.30 490.90,183.30" fill="#000"/>
<line x1="485.05" y1="178.15" x2="485.05" y2="174.97" stroke="#111" stroke-width="0.45"/>
<line x1="482.45" y1="174.97" x2="487.65" y2="174.97" stroke="#111" stroke-width="0.45"/>
<line x1="482.45" y1="181.34" x2="487.65" y2="181.34" stroke="#111" stroke-width="0.45"/>
<line x1="485.05" y1="178.15" x2="485.05" y2="181.34" stroke="#111" stroke-width="0.45"/>
<line x1="485.50" y1="210.50" x2="485.50" y2="213.00" stroke="#111" stroke-width="0.9"/>
<line x1="406.50" y1="145.80" x2="406.50" y2="211.00" stroke="#111" stroke-width="0.9"/>
<line x1="406.50" y1="210.50" x2="500.50" y2="210.50" stroke="#111" stroke-width="1.0"/>
<line x1="403.80" y1="210.50" x2="406.60" y2="210.50" stroke="#111" stroke-width="0.8"/>
<text x="403.60" y="211.50" font-size="4.3" font-family='"Liberation Sans", sans-serif' fill="#222" stroke="#222" stroke-width="0.15" text-anchor="end">0</text>
<line x1="403.80" y1="194.50" x2="406.60" y2="194.50" stroke="#111" stroke-width="0.8"/>
<text x="403.60" y="195.57" font-size="4.3" font-family='"Liberation Sans", sans-serif' fill="#222" stroke="#222" stroke-width="0.15" text-anchor="end">200</text>
<line x1="403.80" y1="178.50" x2="406.60" y2="178.50" stroke="#111" stroke-width="0.8"/>
<text x="403.60" y="179.65" font-size="4.3" font-family='"Liberation Sans", sans-serif' fill="#222" stroke="#222" stroke-width="0.15" text-anchor="end">400</text>
<line x1="403.80" y1="162.50" x2="406.60" y2="162.50" stroke="#111" stroke-width="0.8"/>
<text x="403.60" y="163.73" font-size="4.3" font-family='"Liberation Sans", sans-serif' fill="#222" stroke="#222" stroke-width="0.15" text-anchor="end">600</text>
<line x1="403.80" y1="146.50" x2="406.60" y2="146.50" stroke="#111" stroke-width="0.8"/>
<text x="403.60" y="147.80" font-size="4.3" font-family='"Liberation Sans", sans-serif' fill="#222" stroke="#222" stroke-width="0.15" text-anchor="end">800</text>
<line x1="454.00" y1="148.00" x2="481.20" y2="148.00" stroke="#222" stroke-width="0.7"/>
<line x1="454.00" y1="147.65" x2="454.00" y2="149.10" stroke="#222" stroke-width="0.7"/>
<line x1="481.20" y1="147.65" x2="481.20" y2="149.10" stroke="#222" stroke-width="0.7"/>
<text x="467.60" y="147.00" font-size="8.0" font-family='"Liberation Sans", sans-serif' fill="#111" text-anchor="middle" font-weight="bold">**</text>
<text x="392.70" y="167.50" font-size="4.9" font-family='"Liberation Sans", sans-serif' fill="#6e6e6e" stroke="#6e6e6e" stroke-width="0.12" text-anchor="middle" textLength="45.60" lengthAdjust="spacingAndGlyphs" transform="rotate(-90 392.70 167.50)">Isobutyric acid(ug/g)</text>
<text x="421.40" y="220.60" font-size="3.5" font-family='"Liberation Sans", sans-serif' fill="#000" textLength="5.80" lengthAdjust="spacingAndGlyphs" stroke="#000" stroke-width="0.12">NC</text>
<text x="445.80" y="220.60" font-size="3.5" font-family='"Liberation Sans", sans-serif' fill="#000" textLength="5.80" lengthAdjust="spacingAndGlyphs" stroke="#000" stroke-width="0.12">PC</text>
<text x="457.00" y="220.60" font-size="3.5" font-family='"Liberation Sans", sans-serif' fill="#000" font-style="italic" textLength="42.00" lengthAdjust="spacingAndGlyphs" stroke="#000" stroke-width="0.12">B.pseudocatenulatum</text>
<rect x="525.80" y="187.71" width="21.60" height="22.29" fill="url(#gK)" stroke="#111" stroke-width="0.55"/>
<circle cx="536.60" cy="158.80" r="1.1" fill="#000"/>
<circle cx="536.60" cy="174.00" r="1.1" fill="#000"/>
<circle cx="534.90" cy="193.00" r="1.1" fill="#000"/>
<circle cx="531.30" cy="197.80" r="1.1" fill="#000"/>
<circle cx="534.90" cy="197.80" r="1.1" fill="#000"/>
<circle cx="538.60" cy="197.80" r="1.1" fill="#000"/>
<circle cx="542.10" cy="197.80" r="1.1" fill="#000"/>
<circle cx="537.40" cy="193.70" r="1.1" fill="#000"/>
<line x1="536.60" y1="187.71" x2="536.60" y2="182.93" stroke="#111" stroke-width="0.45"/>
<line x1="534.00" y1="182.93" x2="539.20" y2="182.93" stroke="#111" stroke-width="0.45"/>
<line x1="534.00" y1="192.48" x2="539.20" y2="192.48" stroke="#111" stroke-width="0.45"/>
<line x1="536.60" y1="187.71" x2="536.60" y2="192.48" stroke="#111" stroke-width="0.45"/>
<line x1="536.50" y1="210.50" x2="536.50" y2="213.00" stroke="#111" stroke-width="0.9"/>
<rect x="557.70" y="195.67" width="21.60" height="14.33" fill="url(#gR)" stroke="#111" stroke-width="0.55"/>
<rect x="566.95" y="192.15" width="2.10" height="2.10" fill="#000"/>
<rect x="559.45" y="194.95" width="2.10" height="2.10" fill="#000"/>
<rect x="562.95" y="195.45" width="2.10" height="2.10" fill="#000"/>
<rect x="566.95" y="195.45" width="2.10" height="2.10" fill="#000"/>
<rect x="570.95" y="195.45" width="2.10" height="2.10" fill="#000"/>
<rect x="574.95" y="194.95" width="2.10" height="2.10" fill="#000"/>
<line x1="568.50" y1="195.67" x2="568.50" y2="195.19" stroke="#111" stroke-width="0.45"/>
<line x1="565.90" y1="195.19" x2="571.10" y2="195.19" stroke="#111" stroke-width="0.45"/>
<line x1="565.90" y1="196.15" x2="571.10" y2="196.15" stroke="#111" stroke-width="0.45"/>
<line x1="568.50" y1="195.67" x2="568.50" y2="196.15" stroke="#111" stroke-width="0.45"/>
<line x1="568.50" y1="210.50" x2="568.50" y2="213.00" stroke="#111" stroke-width="0.9"/>
<rect x="589.20" y="195.27" width="21.40" height="14.73" fill="url(#gG)" stroke="#111" stroke-width="0.55"/>
<polygon points="600.00,184.90 598.80,187.10 601.20,187.10" fill="#000"/>
<polygon points="592.50,194.70 591.30,196.90 593.70,196.90" fill="#000"/>
<polygon points="596.00,195.20 594.80,197.40 597.20,197.40" fill="#000"/>
<polygon points="600.00,195.20 598.80,197.40 601.20,197.40" fill="#000"/>
<polygon points="604.00,195.20 602.80,197.40 605.20,197.40" fill="#000"/>
<polygon points="607.50,194.70 606.30,196.90 608.70,196.90" fill="#000"/>
<line x1="599.90" y1="195.27" x2="599.90" y2="194.07" stroke="#111" stroke-width="0.45"/>
<line x1="597.30" y1="194.07" x2="602.50" y2="194.07" stroke="#111" stroke-width="0.45"/>
<line x1="597.30" y1="196.46" x2="602.50" y2="196.46" stroke="#111" stroke-width="0.45"/>
<line x1="599.90" y1="195.27" x2="599.90" y2="196.46" stroke="#111" stroke-width="0.45"/>
<line x1="599.50" y1="210.50" x2="599.50" y2="213.00" stroke="#111" stroke-width="0.9"/>
<line x1="520.50" y1="145.80" x2="520.50" y2="211.00" stroke="#111" stroke-width="0.9"/>
<line x1="520.50" y1="210.50" x2="615.40" y2="210.50" stroke="#111" stroke-width="1.0"/>
<line x1="517.80" y1="210.50" x2="520.60" y2="210.50" stroke="#111" stroke-width="0.8"/>
<text x="517.60" y="211.50" font-size="4.3" font-family='"Liberation Sans", sans-serif' fill="#222" stroke="#222" stroke-width="0.15" text-anchor="end">0</text>
<line x1="517.80" y1="194.50" x2="520.60" y2="194.50" stroke="#111" stroke-width="0.8"/>
<text x="517.60" y="195.57" font-size="4.3" font-family='"Liberation Sans", sans-serif' fill="#222" stroke="#222" stroke-width="0.15" text-anchor="end">20</text>
<line x1="517.80" y1="178.50" x2="520.60" y2="178.50" stroke="#111" stroke-width="0.8"/>
<text x="517.60" y="179.65" font-size="4.3" font-family='"Liberation Sans", sans-serif' fill="#222" stroke="#222" stroke-width="0.15" text-anchor="end">40</text>
<line x1="517.80" y1="162.50" x2="520.60" y2="162.50" stroke="#111" stroke-width="0.8"/>
<text x="517.60" y="163.73" font-size="4.3" font-family='"Liberation Sans", sans-serif' fill="#222" stroke="#222" stroke-width="0.15" text-anchor="end">60</text>
<line x1="517.80" y1="146.50" x2="520.60" y2="146.50" stroke="#111" stroke-width="0.8"/>
<text x="517.60" y="147.80" font-size="4.3" font-family='"Liberation Sans", sans-serif' fill="#222" stroke="#222" stroke-width="0.15" text-anchor="end">80</text>
<line x1="566.30" y1="148.00" x2="592.80" y2="148.00" stroke="#222" stroke-width="0.7"/>
<line x1="566.30" y1="147.65" x2="566.30" y2="149.10" stroke="#222" stroke-width="0.7"/>
<line x1="592.80" y1="147.65" x2="592.80" y2="149.10" stroke="#222" stroke-width="0.7"/>
<text x="579.55" y="147.00" font-size="8.0" font-family='"Liberation Sans", sans-serif' fill="#111" text-anchor="middle" font-weight="bold">*</text>
<text x="507.70" y="167.35" font-size="4.9" font-family='"Liberation Sans", sans-serif' fill="#6e6e6e" stroke="#6e6e6e" stroke-width="0.12" text-anchor="middle" textLength="43.30" lengthAdjust="spacingAndGlyphs" transform="rotate(-90 507.70 167.35)">Butyric acid(ug/g)</text>
<text x="534.90" y="220.60" font-size="3.5" font-family='"Liberation Sans", sans-serif' fill="#000" textLength="5.90" lengthAdjust="spacingAndGlyphs" stroke="#000" stroke-width="0.12">NC</text>
<text x="560.00" y="220.60" font-size="3.5" font-family='"Liberation Sans", sans-serif' fill="#000" textLength="5.90" lengthAdjust="spacingAndGlyphs" stroke="#000" stroke-width="0.12">PC</text>
<text x="570.00" y="220.60" font-size="3.5" font-family='"Liberation Sans", sans-serif' fill="#000" font-style="italic" textLength="42.90" lengthAdjust="spacingAndGlyphs" stroke="#000" stroke-width="0.12">B.pseudocatenulatum</text>
<text x="1.80" y="244.10" font-size="7.4" font-family='"Liberation Serif", serif' fill="#000" font-weight="bold" textLength="5.30" lengthAdjust="spacingAndGlyphs">E</text>
<line x1="54.70" y1="339.40" x2="54.70" y2="337.22" stroke="#000" stroke-width="0.8"/>
<line x1="53.40" y1="337.22" x2="56.00" y2="337.22" stroke="#000" stroke-width="0.8"/>
<rect x="52.45" y="339.40" width="4.50" height="27.20" fill="url(#eK)" stroke="#4a4a4a" stroke-width="0.8"/>
<line x1="62.00" y1="319.00" x2="62.00" y2="307.30" stroke="#000" stroke-width="0.8"/>
<line x1="60.70" y1="307.30" x2="63.30" y2="307.30" stroke="#000" stroke-width="0.8"/>
<rect x="59.75" y="319.00" width="4.50" height="47.60" fill="url(#eR)" stroke="#c0606c" stroke-width="0.8"/>
<line x1="69.30" y1="347.56" x2="69.30" y2="345.38" stroke="#000" stroke-width="0.8"/>
<line x1="68.00" y1="345.38" x2="70.60" y2="345.38" stroke="#000" stroke-width="0.8"/>
<rect x="67.05" y="347.56" width="4.50" height="19.04" fill="url(#eG)" stroke="#4f9d60" stroke-width="0.8"/>
<line x1="62.50" y1="366.60" x2="62.50" y2="370.40" stroke="#000" stroke-width="1.0"/>
<text x="64.80" y="374.90" font-size="5.2" font-family='"Liberation Serif", serif' fill="#222" stroke="#222" stroke-width="0.12" text-anchor="end" transform="rotate(-45 64.80 374.90)">TNF-A</text>
<line x1="81.90" y1="339.40" x2="81.90" y2="337.22" stroke="#000" stroke-width="0.8"/>
<line x1="80.60" y1="337.22" x2="83.20" y2="337.22" stroke="#000" stroke-width="0.8"/>
<rect x="79.65" y="339.40" width="4.50" height="27.20" fill="url(#eK)" stroke="#4a4a4a" stroke-width="0.8"/>
<line x1="89.20" y1="312.20" x2="89.20" y2="306.76" stroke="#000" stroke-width="0.8"/>
<line x1="87.90" y1="306.76" x2="90.50" y2="306.76" stroke="#000" stroke-width="0.8"/>
<rect x="86.95" y="312.20" width="4.50" height="54.40" fill="url(#eR)" stroke="#c0606c" stroke-width="0.8"/>
<line x1="96.50" y1="333.96" x2="96.50" y2="331.24" stroke="#000" stroke-width="0.8"/>
<line x1="95.20" y1="331.24" x2="97.80" y2="331.24" stroke="#000" stroke-width="0.8"/>
<rect x="94.25" y="333.96" width="4.50" height="32.64" fill="url(#eG)" stroke="#4f9d60" stroke-width="0.8"/>
<line x1="89.50" y1="366.60" x2="89.50" y2="370.40" stroke="#000" stroke-width="1.0"/>
<text x="92.00" y="374.90" font-size="5.2" font-family='"Liberation Serif", serif' fill="#222" stroke="#222" stroke-width="0.12" text-anchor="end" transform="rotate(-45 92.00 374.90)">IL-1B</text>
<line x1="109.50" y1="339.94" x2="109.50" y2="337.22" stroke="#000" stroke-width="0.8"/>
<line x1="108.20" y1="337.22" x2="110.80" y2="337.22" stroke="#000" stroke-width="0.8"/>
<rect x="107.25" y="339.94" width="4.50" height="26.66" fill="url(#eK)" stroke="#4a4a4a" stroke-width="0.8"/>
<line x1="116.80" y1="353.82" x2="116.80" y2="351.37" stroke="#000" stroke-width="0.8"/>
<line x1="115.50" y1="351.37" x2="118.10" y2="351.37" stroke="#000" stroke-width="0.8"/>
<rect x="114.55" y="353.82" width="4.50" height="12.78" fill="url(#eR)" stroke="#c0606c" stroke-width="0.8"/>
<line x1="124.10" y1="348.92" x2="124.10" y2="344.84" stroke="#000" stroke-width="0.8"/>
<line x1="122.80" y1="344.84" x2="125.40" y2="344.84" stroke="#000" stroke-width="0.8"/>
<rect x="121.85" y="348.92" width="4.50" height="17.68" fill="url(#eG)" stroke="#4f9d60" stroke-width="0.8"/>
<line x1="116.50" y1="366.60" x2="116.50" y2="370.40" stroke="#000" stroke-width="1.0"/>
<text x="119.60" y="374.90" font-size="5.2" font-family='"Liberation Serif", serif' fill="#222" stroke="#222" stroke-width="0.12" text-anchor="end" transform="rotate(-45 119.60 374.90)">IL4</text>
<line x1="136.80" y1="339.94" x2="136.80" y2="336.14" stroke="#000" stroke-width="0.8"/>
<line x1="135.50" y1="336.14" x2="138.10" y2="336.14" stroke="#000" stroke-width="0.8"/>
<rect x="134.55" y="339.94" width="4.50" height="26.66" fill="url(#eK)" stroke="#4a4a4a" stroke-width="0.8"/>
<line x1="144.10" y1="321.18" x2="144.10" y2="314.38" stroke="#000" stroke-width="0.8"/>
<line x1="142.80" y1="314.38" x2="145.40" y2="314.38" stroke="#000" stroke-width="0.8"/>
<rect x="141.85" y="321.18" width="4.50" height="45.42" fill="url(#eR)" stroke="#c0606c" stroke-width="0.8"/>
<line x1="151.40" y1="340.49" x2="151.40" y2="335.32" stroke="#000" stroke-width="0.8"/>
<line x1="150.10" y1="335.32" x2="152.70" y2="335.32" stroke="#000" stroke-width="0.8"/>
<rect x="149.15" y="340.49" width="4.50" height="26.11" fill="url(#eG)" stroke="#4f9d60" stroke-width="0.8"/>
<line x1="144.50" y1="366.60" x2="144.50" y2="370.40" stroke="#000" stroke-width="1.0"/>
<text x="146.90" y="374.90" font-size="5.2" font-family='"Liberation Serif", serif' fill="#222" stroke="#222" stroke-width="0.12" text-anchor="end" transform="rotate(-45 146.90 374.90)">IL6</text>
<line x1="164.30" y1="339.40" x2="164.30" y2="338.04" stroke="#000" stroke-width="0.8"/>
<line x1="163.00" y1="338.04" x2="165.60" y2="338.04" stroke="#000" stroke-width="0.8"/>
<rect x="162.05" y="339.40" width="4.50" height="27.20" fill="url(#eK)" stroke="#4a4a4a" stroke-width="0.8"/>
<line x1="171.60" y1="301.32" x2="171.60" y2="286.36" stroke="#000" stroke-width="0.8"/>
<line x1="170.30" y1="286.36" x2="172.90" y2="286.36" stroke="#000" stroke-width="0.8"/>
<rect x="169.35" y="301.32" width="4.50" height="65.28" fill="url(#eR)" stroke="#c0606c" stroke-width="0.8"/>
<line x1="178.90" y1="350.82" x2="178.90" y2="348.38" stroke="#000" stroke-width="0.8"/>
<line x1="177.60" y1="348.38" x2="180.20" y2="348.38" stroke="#000" stroke-width="0.8"/>
<rect x="176.65" y="350.82" width="4.50" height="15.78" fill="url(#eG)" stroke="#4f9d60" stroke-width="0.8"/>
<line x1="171.50" y1="366.60" x2="171.50" y2="370.40" stroke="#000" stroke-width="1.0"/>
<text x="174.40" y="374.90" font-size="5.2" font-family='"Liberation Serif", serif' fill="#222" stroke="#222" stroke-width="0.12" text-anchor="end" transform="rotate(-45 174.40 374.90)">IL10</text>
<line x1="192.10" y1="339.40" x2="192.10" y2="336.14" stroke="#000" stroke-width="0.8"/>
<line x1="190.80" y1="336.14" x2="193.40" y2="336.14" stroke="#000" stroke-width="0.8"/>
<rect x="189.85" y="339.40" width="4.50" height="27.20" fill="url(#eK)" stroke="#4a4a4a" stroke-width="0.8"/>
<line x1="199.40" y1="319.82" x2="199.40" y2="313.29" stroke="#000" stroke-width="0.8"/>
<line x1="198.10" y1="313.29" x2="200.70" y2="313.29" stroke="#000" stroke-width="0.8"/>
<rect x="197.15" y="319.82" width="4.50" height="46.78" fill="url(#eR)" stroke="#c0606c" stroke-width="0.8"/>
<line x1="206.70" y1="343.48" x2="206.70" y2="340.76" stroke="#000" stroke-width="0.8"/>
<line x1="205.40" y1="340.76" x2="208.00" y2="340.76" stroke="#000" stroke-width="0.8"/>
<rect x="204.45" y="343.48" width="4.50" height="23.12" fill="url(#eG)" stroke="#4f9d60" stroke-width="0.8"/>
<line x1="199.50" y1="366.60" x2="199.50" y2="370.40" stroke="#000" stroke-width="1.0"/>
<text x="202.20" y="374.90" font-size="5.2" font-family='"Liberation Serif", serif' fill="#222" stroke="#222" stroke-width="0.12" text-anchor="end" transform="rotate(-45 202.20 374.90)">CCL2</text>
<line x1="48.90" y1="257.20" x2="48.90" y2="367.20" stroke="#000" stroke-width="1.4"/>
<line x1="48.40" y1="366.60" x2="212.30" y2="366.60" stroke="#000" stroke-width="1.2"/>
<line x1="44.30" y1="366.60" x2="48.90" y2="366.60" stroke="#000" stroke-width="1.0"/>
<text x="44.10" y="369.00" font-size="6.8" font-family='"Liberation Sans", sans-serif' fill="#000" text-anchor="end" font-weight="bold">0</text>
<line x1="44.30" y1="339.40" x2="48.90" y2="339.40" stroke="#000" stroke-width="1.0"/>
<text x="44.10" y="341.80" font-size="6.8" font-family='"Liberation Sans", sans-serif' fill="#000" text-anchor="end" font-weight="bold">1</text>
<line x1="44.30" y1="312.20" x2="48.90" y2="312.20" stroke="#000" stroke-width="1.0"/>
<text x="44.10" y="314.60" font-size="6.8" font-family='"Liberation Sans", sans-serif' fill="#000" text-anchor="end" font-weight="bold">2</text>
<line x1="44.30" y1="285.00" x2="48.90" y2="285.00" stroke="#000" stroke-width="1.0"/>
<text x="44.10" y="287.40" font-size="6.8" font-family='"Liberation Sans", sans-serif' fill="#000" text-anchor="end" font-weight="bold">3</text>
<line x1="44.30" y1="257.80" x2="48.90" y2="257.80" stroke="#000" stroke-width="1.0"/>
<text x="44.10" y="260.20" font-size="6.8" font-family='"Liberation Sans", sans-serif' fill="#000" text-anchor="end" font-weight="bold">4</text>
<text x="35.70" y="289.75" font-size="6.2" font-family='"Liberation Serif", serif' fill="#111" text-anchor="middle" textLength="75.50" lengthAdjust="spacingAndGlyphs" transform="rotate(-90 35.70 289.75)">mRNA Relative expression (fold)</text>
<line x1="53.20" y1="300.20" x2="63.40" y2="300.20" stroke="#000" stroke-width="1.3"/>
<text x="58.30" y="297.70" font-size="5.8" font-family='"Liberation Sans", sans-serif' fill="#111" text-anchor="middle" textLength="10.40" lengthAdjust="spacingAndGlyphs">0.08</text>
<line x1="62.10" y1="304.80" x2="72.20" y2="304.80" stroke="#000" stroke-width="1.3"/>
<text x="67.15" y="304.40" font-size="8.4" font-family='"Liberation Sans", sans-serif' fill="#111" text-anchor="middle" font-weight="bold">**</text>
<line x1="81.10" y1="297.70" x2="90.70" y2="297.70" stroke="#000" stroke-width="1.3"/>
<text x="85.90" y="297.30" font-size="8.4" font-family='"Liberation Sans", sans-serif' fill="#111" text-anchor="middle" font-weight="bold">**</text>
<line x1="88.20" y1="304.80" x2="97.80" y2="304.80" stroke="#000" stroke-width="1.3"/>
<text x="93.00" y="304.40" font-size="8.4" font-family='"Liberation Sans", sans-serif' fill="#111" text-anchor="middle" font-weight="bold">**</text>
<line x1="107.80" y1="332.60" x2="117.90" y2="332.60" stroke="#000" stroke-width="1.3"/>
<text x="112.85" y="332.20" font-size="8.4" font-family='"Liberation Sans", sans-serif' fill="#111" text-anchor="middle" font-weight="bold">**</text>
<line x1="135.60" y1="304.30" x2="145.30" y2="304.30" stroke="#000" stroke-width="1.3"/>
<text x="140.45" y="301.80" font-size="5.8" font-family='"Liberation Sans", sans-serif' fill="#111" text-anchor="middle" textLength="10.40" lengthAdjust="spacingAndGlyphs">0.08</text>
<line x1="142.30" y1="311.70" x2="152.00" y2="311.70" stroke="#000" stroke-width="1.3"/>
<text x="147.15" y="309.20" font-size="5.8" font-family='"Liberation Sans", sans-serif' fill="#111" text-anchor="middle" textLength="10.40" lengthAdjust="spacingAndGlyphs">0.09</text>
<line x1="162.00" y1="283.40" x2="172.20" y2="283.40" stroke="#000" stroke-width="1.3"/>
<text x="167.10" y="280.90" font-size="5.8" font-family='"Liberation Sans", sans-serif' fill="#111" text-anchor="middle" textLength="10.40" lengthAdjust="spacingAndGlyphs">0.08</text>
<line x1="169.00" y1="275.30" x2="179.10" y2="275.30" stroke="#000" stroke-width="1.3"/>
<text x="174.05" y="274.90" font-size="8.4" font-family='"Liberation Sans", sans-serif' fill="#111" text-anchor="middle" font-weight="bold">*</text>
<line x1="190.40" y1="309.70" x2="200.00" y2="309.70" stroke="#000" stroke-width="1.3"/>
<text x="195.20" y="309.30" font-size="8.4" font-family='"Liberation Sans", sans-serif' fill="#111" text-anchor="middle" font-weight="bold">*</text>
<line x1="197.00" y1="303.60" x2="207.00" y2="303.60" stroke="#000" stroke-width="1.3"/>
<text x="202.00" y="303.20" font-size="8.4" font-family='"Liberation Sans", sans-serif' fill="#111" text-anchor="middle" font-weight="bold">**</text>
<line x1="270.40" y1="348.20" x2="270.40" y2="346.71" stroke="#000" stroke-width="0.8"/>
<line x1="269.10" y1="346.71" x2="271.70" y2="346.71" stroke="#000" stroke-width="0.8"/>
<rect x="268.40" y="348.20" width="4.00" height="21.30" fill="url(#eK)" stroke="#4a4a4a" stroke-width="0.8"/>
<line x1="277.40" y1="272.66" x2="277.40" y2="266.06" stroke="#000" stroke-width="0.8"/>
<line x1="276.10" y1="266.06" x2="278.70" y2="266.06" stroke="#000" stroke-width="0.8"/>
<rect x="275.40" y="272.66" width="4.00" height="96.84" fill="url(#eR)" stroke="#c0606c" stroke-width="0.8"/>
<line x1="284.10" y1="306.24" x2="284.10" y2="293.88" stroke="#000" stroke-width="0.8"/>
<line x1="282.80" y1="293.88" x2="285.40" y2="293.88" stroke="#000" stroke-width="0.8"/>
<rect x="282.10" y="306.24" width="4.00" height="63.26" fill="url(#eG)" stroke="#4f9d60" stroke-width="0.8"/>
<line x1="277.50" y1="369.50" x2="277.50" y2="373.30" stroke="#000" stroke-width="1.0"/>
<text x="276.80" y="377.00" font-size="5.2" font-family='"Liberation Serif", serif' fill="#222" stroke="#222" stroke-width="0.12" text-anchor="end" transform="rotate(-45 276.80 377.00)">ACC-1</text>
<line x1="295.90" y1="348.20" x2="295.90" y2="344.58" stroke="#000" stroke-width="0.8"/>
<line x1="294.60" y1="344.58" x2="297.20" y2="344.58" stroke="#000" stroke-width="0.8"/>
<rect x="293.90" y="348.20" width="4.00" height="21.30" fill="url(#eK)" stroke="#4a4a4a" stroke-width="0.8"/>
<line x1="302.90" y1="304.53" x2="302.90" y2="296.01" stroke="#000" stroke-width="0.8"/>
<line x1="301.60" y1="296.01" x2="304.20" y2="296.01" stroke="#000" stroke-width="0.8"/>
<rect x="300.90" y="304.53" width="4.00" height="64.97" fill="url(#eR)" stroke="#c0606c" stroke-width="0.8"/>
<line x1="309.60" y1="324.77" x2="309.60" y2="321.15" stroke="#000" stroke-width="0.8"/>
<line x1="308.30" y1="321.15" x2="310.90" y2="321.15" stroke="#000" stroke-width="0.8"/>
<rect x="307.60" y="324.77" width="4.00" height="44.73" fill="url(#eG)" stroke="#4f9d60" stroke-width="0.8"/>
<line x1="302.50" y1="369.50" x2="302.50" y2="373.30" stroke="#000" stroke-width="1.0"/>
<text x="302.30" y="377.00" font-size="5.2" font-family='"Liberation Serif", serif' fill="#222" stroke="#222" stroke-width="0.12" text-anchor="end" transform="rotate(-45 302.30 377.00)">CD36</text>
<line x1="320.50" y1="348.20" x2="320.50" y2="346.50" stroke="#000" stroke-width="0.8"/>
<line x1="319.20" y1="346.50" x2="321.80" y2="346.50" stroke="#000" stroke-width="0.8"/>
<rect x="318.50" y="348.20" width="4.00" height="21.30" fill="url(#eK)" stroke="#4a4a4a" stroke-width="0.8"/>
<line x1="327.50" y1="320.51" x2="327.50" y2="310.29" stroke="#000" stroke-width="0.8"/>
<line x1="326.20" y1="310.29" x2="328.80" y2="310.29" stroke="#000" stroke-width="0.8"/>
<rect x="325.50" y="320.51" width="4.00" height="48.99" fill="url(#eR)" stroke="#c0606c" stroke-width="0.8"/>
<line x1="334.20" y1="348.20" x2="334.20" y2="344.58" stroke="#000" stroke-width="0.8"/>
<line x1="332.90" y1="344.58" x2="335.50" y2="344.58" stroke="#000" stroke-width="0.8"/>
<rect x="332.20" y="348.20" width="4.00" height="21.30" fill="url(#eG)" stroke="#4f9d60" stroke-width="0.8"/>
<line x1="327.50" y1="369.50" x2="327.50" y2="373.30" stroke="#000" stroke-width="1.0"/>
<text x="326.90" y="377.00" font-size="5.2" font-family='"Liberation Serif", serif' fill="#222" stroke="#222" stroke-width="0.12" text-anchor="end" transform="rotate(-45 326.90 377.00)">FASN</text>
<line x1="345.30" y1="348.20" x2="345.30" y2="346.50" stroke="#000" stroke-width="0.8"/>
<line x1="344.00" y1="346.50" x2="346.60" y2="346.50" stroke="#000" stroke-width="0.8"/>
<rect x="343.30" y="348.20" width="4.00" height="21.30" fill="url(#eK)" stroke="#4a4a4a" stroke-width="0.8"/>
<line x1="352.30" y1="357.79" x2="352.30" y2="356.29" stroke="#000" stroke-width="0.8"/>
<line x1="351.00" y1="356.29" x2="353.60" y2="356.29" stroke="#000" stroke-width="0.8"/>
<rect x="350.30" y="357.79" width="4.00" height="11.71" fill="url(#eR)" stroke="#c0606c" stroke-width="0.8"/>
<line x1="359.00" y1="348.20" x2="359.00" y2="345.64" stroke="#000" stroke-width="0.8"/>
<line x1="357.70" y1="345.64" x2="360.30" y2="345.64" stroke="#000" stroke-width="0.8"/>
<rect x="357.00" y="348.20" width="4.00" height="21.30" fill="url(#eG)" stroke="#4f9d60" stroke-width="0.8"/>
<line x1="352.50" y1="369.50" x2="352.50" y2="373.30" stroke="#000" stroke-width="1.0"/>
<text x="351.70" y="377.00" font-size="5.2" font-family='"Liberation Serif", serif' fill="#222" stroke="#222" stroke-width="0.12" text-anchor="end" transform="rotate(-45 351.70 377.00)">CPT1a</text>
<line x1="371.10" y1="347.13" x2="371.10" y2="345.00" stroke="#000" stroke-width="0.8"/>
<line x1="369.80" y1="345.00" x2="372.40" y2="345.00" stroke="#000" stroke-width="0.8"/>
<rect x="369.10" y="347.13" width="4.00" height="22.37" fill="url(#eK)" stroke="#4a4a4a" stroke-width="0.8"/>
<line x1="378.10" y1="348.63" x2="378.10" y2="346.92" stroke="#000" stroke-width="0.8"/>
<line x1="376.80" y1="346.92" x2="379.40" y2="346.92" stroke="#000" stroke-width="0.8"/>
<rect x="376.10" y="348.63" width="4.00" height="20.87" fill="url(#eR)" stroke="#c0606c" stroke-width="0.8"/>
<line x1="384.80" y1="344.37" x2="384.80" y2="341.38" stroke="#000" stroke-width="0.8"/>
<line x1="383.50" y1="341.38" x2="386.10" y2="341.38" stroke="#000" stroke-width="0.8"/>
<rect x="382.80" y="344.37" width="4.00" height="25.13" fill="url(#eG)" stroke="#4f9d60" stroke-width="0.8"/>
<line x1="377.50" y1="369.50" x2="377.50" y2="373.30" stroke="#000" stroke-width="1.0"/>
<text x="377.50" y="377.00" font-size="5.2" font-family='"Liberation Serif", serif' fill="#222" stroke="#222" stroke-width="0.12" text-anchor="end" transform="rotate(-45 377.50 377.00)">SREBP1c</text>
<line x1="396.30" y1="348.20" x2="396.30" y2="345.64" stroke="#000" stroke-width="0.8"/>
<line x1="395.00" y1="345.64" x2="397.60" y2="345.64" stroke="#000" stroke-width="0.8"/>
<rect x="394.30" y="348.20" width="4.00" height="21.30" fill="url(#eK)" stroke="#4a4a4a" stroke-width="0.8"/>
<line x1="403.30" y1="359.92" x2="403.30" y2="359.28" stroke="#000" stroke-width="0.8"/>
<line x1="402.00" y1="359.28" x2="404.60" y2="359.28" stroke="#000" stroke-width="0.8"/>
<rect x="401.30" y="359.92" width="4.00" height="9.58" fill="url(#eR)" stroke="#c0606c" stroke-width="0.8"/>
<line x1="410.00" y1="362.47" x2="410.00" y2="361.83" stroke="#000" stroke-width="0.8"/>
<line x1="408.70" y1="361.83" x2="411.30" y2="361.83" stroke="#000" stroke-width="0.8"/>
<rect x="408.00" y="362.47" width="4.00" height="7.03" fill="url(#eG)" stroke="#4f9d60" stroke-width="0.8"/>
<line x1="403.50" y1="369.50" x2="403.50" y2="373.30" stroke="#000" stroke-width="1.0"/>
<text x="402.70" y="377.00" font-size="5.2" font-family='"Liberation Serif", serif' fill="#222" stroke="#222" stroke-width="0.12" text-anchor="end" transform="rotate(-45 402.70 377.00)">PPAR-a</text>
<line x1="421.10" y1="348.84" x2="421.10" y2="347.35" stroke="#000" stroke-width="0.8"/>
<line x1="419.80" y1="347.35" x2="422.40" y2="347.35" stroke="#000" stroke-width="0.8"/>
<rect x="419.10" y="348.84" width="4.00" height="20.66" fill="url(#eK)" stroke="#4a4a4a" stroke-width="0.8"/>
<line x1="428.10" y1="351.18" x2="428.10" y2="350.33" stroke="#000" stroke-width="0.8"/>
<line x1="426.80" y1="350.33" x2="429.40" y2="350.33" stroke="#000" stroke-width="0.8"/>
<rect x="426.10" y="351.18" width="4.00" height="18.32" fill="url(#eR)" stroke="#c0606c" stroke-width="0.8"/>
<line x1="434.80" y1="352.89" x2="434.80" y2="352.03" stroke="#000" stroke-width="0.8"/>
<line x1="433.50" y1="352.03" x2="436.10" y2="352.03" stroke="#000" stroke-width="0.8"/>
<rect x="432.80" y="352.89" width="4.00" height="16.61" fill="url(#eG)" stroke="#4f9d60" stroke-width="0.8"/>
<line x1="427.50" y1="369.50" x2="427.50" y2="373.30" stroke="#000" stroke-width="1.0"/>
<text x="427.50" y="377.00" font-size="5.2" font-family='"Liberation Serif", serif' fill="#222" stroke="#222" stroke-width="0.12" text-anchor="end" transform="rotate(-45 427.50 377.00)">PPAR-g</text>
<rect x="275.00" y="281.30" width="5.60" height="2.60" fill="#fff"/>
<line x1="264.50" y1="252.30" x2="264.50" y2="370.10" stroke="#000" stroke-width="1.4"/>
<line x1="264.00" y1="369.50" x2="439.80" y2="369.50" stroke="#000" stroke-width="1.2"/>
<line x1="260.30" y1="369.50" x2="264.50" y2="369.50" stroke="#000" stroke-width="1.0"/>
<text x="260.10" y="372.40" font-size="8.2" font-family='"Liberation Sans", sans-serif' fill="#000" stroke="#000" stroke-width="0.25" text-anchor="end">0</text>
<line x1="260.30" y1="348.20" x2="264.50" y2="348.20" stroke="#000" stroke-width="1.0"/>
<text x="260.10" y="351.10" font-size="8.2" font-family='"Liberation Sans", sans-serif' fill="#000" stroke="#000" stroke-width="0.25" text-anchor="end">1</text>
<line x1="260.30" y1="326.90" x2="264.50" y2="326.90" stroke="#000" stroke-width="1.0"/>
<text x="260.10" y="329.80" font-size="8.2" font-family='"Liberation Sans", sans-serif' fill="#000" stroke="#000" stroke-width="0.25" text-anchor="end">2</text>
<line x1="260.30" y1="305.60" x2="264.50" y2="305.60" stroke="#000" stroke-width="1.0"/>
<text x="260.10" y="308.50" font-size="8.2" font-family='"Liberation Sans", sans-serif' fill="#000" stroke="#000" stroke-width="0.25" text-anchor="end">3</text>
<line x1="260.30" y1="274.05" x2="264.50" y2="274.05" stroke="#000" stroke-width="1.0"/>
<text x="260.10" y="276.75" font-size="8.2" font-family='"Liberation Sans", sans-serif' fill="#000" stroke="#000" stroke-width="0.25" text-anchor="end">5</text>
<line x1="260.30" y1="267.10" x2="264.50" y2="267.10" stroke="#000" stroke-width="1.0"/>
<text x="260.10" y="269.80" font-size="8.2" font-family='"Liberation Sans", sans-serif' fill="#000" stroke="#000" stroke-width="0.25" text-anchor="end">6</text>
<line x1="260.30" y1="260.15" x2="264.50" y2="260.15" stroke="#000" stroke-width="1.0"/>
<text x="260.10" y="262.85" font-size="8.2" font-family='"Liberation Sans", sans-serif' fill="#000" stroke="#000" stroke-width="0.25" text-anchor="end">7</text>
<line x1="260.30" y1="253.20" x2="264.50" y2="253.20" stroke="#000" stroke-width="1.0"/>
<text x="260.10" y="255.90" font-size="8.2" font-family='"Liberation Sans", sans-serif' fill="#000" stroke="#000" stroke-width="0.25" text-anchor="end">8</text>
<text x="260.10" y="287.00" font-size="8.2" font-family='"Liberation Sans", sans-serif' fill="#000" stroke="#000" stroke-width="0.25" text-anchor="end">4</text>
<rect x="263.50" y="282.20" width="2.00" height="1.60" fill="#fff"/>
<line x1="262.90" y1="281.80" x2="267.90" y2="281.80" stroke="#000" stroke-width="1.0"/>
<line x1="262.90" y1="284.10" x2="267.90" y2="284.10" stroke="#000" stroke-width="1.0"/>
<text x="250.00" y="292.80" font-size="6.2" font-family='"Liberation Serif", serif' fill="#111" text-anchor="middle" textLength="76.20" lengthAdjust="spacingAndGlyphs" transform="rotate(-90 250.00 292.80)">mRNA Relative expression (fold)</text>
<line x1="268.70" y1="259.60" x2="277.70" y2="259.60" stroke="#000" stroke-width="1.3"/>
<text x="273.20" y="259.20" font-size="9.4" font-family='"Liberation Sans", sans-serif' fill="#111" text-anchor="middle" font-weight="bold">**</text>
<line x1="278.40" y1="263.90" x2="285.90" y2="263.90" stroke="#000" stroke-width="1.3"/>
<text x="282.15" y="263.50" font-size="9.4" font-family='"Liberation Sans", sans-serif' fill="#111" text-anchor="middle" font-weight="bold">*</text>
<line x1="294.50" y1="287.00" x2="303.00" y2="287.00" stroke="#000" stroke-width="1.3"/>
<text x="298.75" y="286.60" font-size="9.4" font-family='"Liberation Sans", sans-serif' fill="#111" text-anchor="middle" font-weight="bold">**</text>
<line x1="303.00" y1="291.20" x2="311.30" y2="291.20" stroke="#000" stroke-width="1.3"/>
<text x="307.15" y="290.80" font-size="9.4" font-family='"Liberation Sans", sans-serif' fill="#111" text-anchor="middle" font-weight="bold">*</text>
<line x1="321.00" y1="302.40" x2="328.40" y2="302.40" stroke="#000" stroke-width="1.3"/>
<text x="324.70" y="302.00" font-size="9.4" font-family='"Liberation Sans", sans-serif' fill="#111" text-anchor="middle" font-weight="bold">*</text>
<line x1="327.20" y1="307.70" x2="334.80" y2="307.70" stroke="#000" stroke-width="1.3"/>
<text x="331.00" y="307.30" font-size="9.4" font-family='"Liberation Sans", sans-serif' fill="#111" text-anchor="middle" font-weight="bold">*</text>
<line x1="346.00" y1="342.80" x2="354.00" y2="342.80" stroke="#000" stroke-width="1.3"/>
<text x="350.00" y="342.40" font-size="9.4" font-family='"Liberation Sans", sans-serif' fill="#111" text-anchor="middle" font-weight="bold">**</text>
<line x1="353.00" y1="333.70" x2="361.30" y2="333.70" stroke="#000" stroke-width="1.3"/>
<text x="357.15" y="333.30" font-size="9.4" font-family='"Liberation Sans", sans-serif' fill="#111" text-anchor="middle" font-weight="bold">**</text>
<line x1="394.80" y1="340.90" x2="405.00" y2="340.90" stroke="#000" stroke-width="1.3"/>
<text x="399.90" y="340.50" font-size="9.4" font-family='"Liberation Sans", sans-serif' fill="#111" text-anchor="middle" font-weight="bold">**</text>
<line x1="419.80" y1="340.90" x2="429.50" y2="340.90" stroke="#000" stroke-width="1.3"/>
<text x="424.65" y="340.50" font-size="9.4" font-family='"Liberation Sans", sans-serif' fill="#111" text-anchor="middle" font-weight="bold">**</text>
<line x1="498.30" y1="327.60" x2="498.30" y2="323.56" stroke="#000" stroke-width="0.8"/>
<line x1="497.00" y1="323.56" x2="499.60" y2="323.56" stroke="#000" stroke-width="0.8"/>
<rect x="495.30" y="327.60" width="6.00" height="40.40" fill="url(#eK)" stroke="#4a4a4a" stroke-width="0.8"/>
<line x1="508.40" y1="319.52" x2="508.40" y2="312.25" stroke="#000" stroke-width="0.8"/>
<line x1="507.10" y1="312.25" x2="509.70" y2="312.25" stroke="#000" stroke-width="0.8"/>
<rect x="505.40" y="319.52" width="6.00" height="48.48" fill="url(#eR)" stroke="#c0606c" stroke-width="0.8"/>
<line x1="518.60" y1="355.07" x2="518.60" y2="354.26" stroke="#000" stroke-width="0.8"/>
<line x1="517.30" y1="354.26" x2="519.90" y2="354.26" stroke="#000" stroke-width="0.8"/>
<rect x="515.60" y="355.07" width="6.00" height="12.93" fill="url(#eG)" stroke="#4f9d60" stroke-width="0.8"/>
<line x1="508.50" y1="368.00" x2="508.50" y2="371.80" stroke="#000" stroke-width="1.0"/>
<text x="511.70" y="372.80" font-size="5.2" font-family='"Liberation Serif", serif' fill="#222" stroke="#222" stroke-width="0.12" text-anchor="end" transform="rotate(-45 511.70 372.80)">TLR2</text>
<line x1="536.40" y1="327.60" x2="536.40" y2="323.56" stroke="#000" stroke-width="0.8"/>
<line x1="535.10" y1="323.56" x2="537.70" y2="323.56" stroke="#000" stroke-width="0.8"/>
<rect x="533.40" y="327.60" width="6.00" height="40.40" fill="url(#eK)" stroke="#4a4a4a" stroke-width="0.8"/>
<line x1="546.50" y1="283.16" x2="546.50" y2="275.08" stroke="#000" stroke-width="0.8"/>
<line x1="545.20" y1="275.08" x2="547.80" y2="275.08" stroke="#000" stroke-width="0.8"/>
<rect x="543.50" y="283.16" width="6.00" height="84.84" fill="url(#eR)" stroke="#c0606c" stroke-width="0.8"/>
<line x1="556.70" y1="349.82" x2="556.70" y2="349.01" stroke="#000" stroke-width="0.8"/>
<line x1="555.40" y1="349.01" x2="558.00" y2="349.01" stroke="#000" stroke-width="0.8"/>
<rect x="553.70" y="349.82" width="6.00" height="18.18" fill="url(#eG)" stroke="#4f9d60" stroke-width="0.8"/>
<line x1="546.50" y1="368.00" x2="546.50" y2="371.80" stroke="#000" stroke-width="1.0"/>
<text x="549.80" y="372.80" font-size="5.2" font-family='"Liberation Serif", serif' fill="#222" stroke="#222" stroke-width="0.12" text-anchor="end" transform="rotate(-45 549.80 372.80)">TLR4</text>
<line x1="574.50" y1="327.60" x2="574.50" y2="324.37" stroke="#000" stroke-width="0.8"/>
<line x1="573.20" y1="324.37" x2="575.80" y2="324.37" stroke="#000" stroke-width="0.8"/>
<rect x="571.50" y="327.60" width="6.00" height="40.40" fill="url(#eK)" stroke="#4a4a4a" stroke-width="0.8"/>
<line x1="584.60" y1="314.67" x2="584.60" y2="301.34" stroke="#000" stroke-width="0.8"/>
<line x1="583.30" y1="301.34" x2="585.90" y2="301.34" stroke="#000" stroke-width="0.8"/>
<rect x="581.60" y="314.67" width="6.00" height="53.33" fill="url(#eR)" stroke="#c0606c" stroke-width="0.8"/>
<line x1="594.80" y1="347.80" x2="594.80" y2="345.78" stroke="#000" stroke-width="0.8"/>
<line x1="593.50" y1="345.78" x2="596.10" y2="345.78" stroke="#000" stroke-width="0.8"/>
<rect x="591.80" y="347.80" width="6.00" height="20.20" fill="url(#eG)" stroke="#4f9d60" stroke-width="0.8"/>
<line x1="584.50" y1="368.00" x2="584.50" y2="371.80" stroke="#000" stroke-width="1.0"/>
<text x="587.90" y="372.80" font-size="5.2" font-family='"Liberation Serif", serif' fill="#222" stroke="#222" stroke-width="0.12" text-anchor="end" transform="rotate(-45 587.90 372.80)">TLR9</text>
<line x1="612.50" y1="327.60" x2="612.50" y2="323.56" stroke="#000" stroke-width="0.8"/>
<line x1="611.20" y1="323.56" x2="613.80" y2="323.56" stroke="#000" stroke-width="0.8"/>
<rect x="609.50" y="327.60" width="6.00" height="40.40" fill="url(#eK)" stroke="#4a4a4a" stroke-width="0.8"/>
<line x1="622.60" y1="349.01" x2="622.60" y2="347.80" stroke="#000" stroke-width="0.8"/>
<line x1="621.30" y1="347.80" x2="623.90" y2="347.80" stroke="#000" stroke-width="0.8"/>
<rect x="619.60" y="349.01" width="6.00" height="18.99" fill="url(#eR)" stroke="#c0606c" stroke-width="0.8"/>
<line x1="632.80" y1="338.51" x2="632.80" y2="334.87" stroke="#000" stroke-width="0.8"/>
<line x1="631.50" y1="334.87" x2="634.10" y2="334.87" stroke="#000" stroke-width="0.8"/>
<rect x="629.80" y="338.51" width="6.00" height="29.49" fill="url(#eG)" stroke="#4f9d60" stroke-width="0.8"/>
<line x1="622.50" y1="368.00" x2="622.50" y2="371.80" stroke="#000" stroke-width="1.0"/>
<text x="625.90" y="372.80" font-size="5.2" font-family='"Liberation Serif", serif' fill="#222" stroke="#222" stroke-width="0.12" text-anchor="end" transform="rotate(-45 625.90 372.80)">TLR12</text>
<line x1="489.20" y1="266.40" x2="489.20" y2="368.60" stroke="#000" stroke-width="1.4"/>
<line x1="488.70" y1="368.00" x2="640.70" y2="368.00" stroke="#000" stroke-width="1.2"/>
<line x1="485.60" y1="368.00" x2="489.20" y2="368.00" stroke="#000" stroke-width="1.0"/>
<text x="485.50" y="370.50" font-size="7.0" font-family='"Liberation Sans", sans-serif' fill="#000" text-anchor="end" font-weight="bold" textLength="10.00" lengthAdjust="spacingAndGlyphs">0.0</text>
<line x1="485.60" y1="347.80" x2="489.20" y2="347.80" stroke="#000" stroke-width="1.0"/>
<text x="485.50" y="350.30" font-size="7.0" font-family='"Liberation Sans", sans-serif' fill="#000" text-anchor="end" font-weight="bold" textLength="10.00" lengthAdjust="spacingAndGlyphs">0.5</text>
<line x1="485.60" y1="327.60" x2="489.20" y2="327.60" stroke="#000" stroke-width="1.0"/>
<text x="485.50" y="330.10" font-size="7.0" font-family='"Liberation Sans", sans-serif' fill="#000" text-anchor="end" font-weight="bold" textLength="10.00" lengthAdjust="spacingAndGlyphs">1.0</text>
<line x1="485.60" y1="307.40" x2="489.20" y2="307.40" stroke="#000" stroke-width="1.0"/>
<text x="485.50" y="309.90" font-size="7.0" font-family='"Liberation Sans", sans-serif' fill="#000" text-anchor="end" font-weight="bold" textLength="10.00" lengthAdjust="spacingAndGlyphs">1.5</text>
<line x1="485.60" y1="287.20" x2="489.20" y2="287.20" stroke="#000" stroke-width="1.0"/>
<text x="485.50" y="289.70" font-size="7.0" font-family='"Liberation Sans", sans-serif' fill="#000" text-anchor="end" font-weight="bold" textLength="10.00" lengthAdjust="spacingAndGlyphs">2.0</text>
<line x1="485.60" y1="267.00" x2="489.20" y2="267.00" stroke="#000" stroke-width="1.0"/>
<text x="485.50" y="269.50" font-size="7.0" font-family='"Liberation Sans", sans-serif' fill="#000" text-anchor="end" font-weight="bold" textLength="10.00" lengthAdjust="spacingAndGlyphs">2.5</text>
<text x="473.20" y="294.90" font-size="5.2" font-family='"Liberation Serif", serif' fill="#111" text-anchor="middle" textLength="66.50" lengthAdjust="spacingAndGlyphs" transform="rotate(-90 473.20 294.90)">mRNA Relative expression (fold)</text>
<line x1="505.50" y1="306.80" x2="521.50" y2="306.80" stroke="#000" stroke-width="1.3"/>
<text x="513.50" y="306.40" font-size="8.6" font-family='"Liberation Sans", sans-serif' fill="#111" text-anchor="middle" font-weight="bold">**</text>
<line x1="532.90" y1="262.50" x2="548.50" y2="262.50" stroke="#000" stroke-width="1.3"/>
<text x="540.70" y="262.10" font-size="8.6" font-family='"Liberation Sans", sans-serif' fill="#111" text-anchor="middle" font-weight="bold">**</text>
<line x1="542.80" y1="271.10" x2="558.00" y2="271.10" stroke="#000" stroke-width="1.3"/>
<text x="550.40" y="270.70" font-size="8.6" font-family='"Liberation Sans", sans-serif' fill="#111" text-anchor="middle" font-weight="bold">**</text>
<line x1="583.00" y1="297.60" x2="599.70" y2="297.60" stroke="#000" stroke-width="1.3"/>
<text x="591.35" y="295.10" font-size="6.8" font-family='"Liberation Sans", sans-serif' fill="#111" text-anchor="middle" textLength="13.70" lengthAdjust="spacingAndGlyphs">0.06</text>
<line x1="611.80" y1="313.70" x2="626.10" y2="313.70" stroke="#000" stroke-width="1.3"/>
<text x="618.95" y="313.30" font-size="8.6" font-family='"Liberation Sans", sans-serif' fill="#111" text-anchor="middle" font-weight="bold">**</text>
<line x1="620.00" y1="324.30" x2="634.80" y2="324.30" stroke="#000" stroke-width="1.3"/>
<text x="627.40" y="323.90" font-size="8.6" font-family='"Liberation Sans", sans-serif' fill="#111" text-anchor="middle" font-weight="bold">*</text>
<rect x="595.20" y="246.40" width="88.30" height="35.20" fill="#fff" stroke="#555" stroke-width="0.6"/>
<rect x="600.80" y="253.20" width="10.30" height="5.50" fill="url(#lK)"/>
<rect x="633.40" y="253.20" width="10.30" height="5.50" fill="url(#lR)"/>
<rect x="600.80" y="266.90" width="10.30" height="5.50" fill="url(#lG)"/>
<text x="617.10" y="259.40" font-size="7.6" font-family='"Liberation Serif", serif' fill="#111" textLength="10.90" lengthAdjust="spacingAndGlyphs">NC</text>
<text x="650.10" y="259.40" font-size="7.6" font-family='"Liberation Serif", serif' fill="#111" textLength="9.10" lengthAdjust="spacingAndGlyphs">PC</text>
<text x="613.50" y="271.60" font-size="7.4" font-family='"Liberation Serif", serif' fill="#111" font-style="italic" textLength="67.50" lengthAdjust="spacingAndGlyphs">B. pseudocatenulatum</text></svg></body></html>
